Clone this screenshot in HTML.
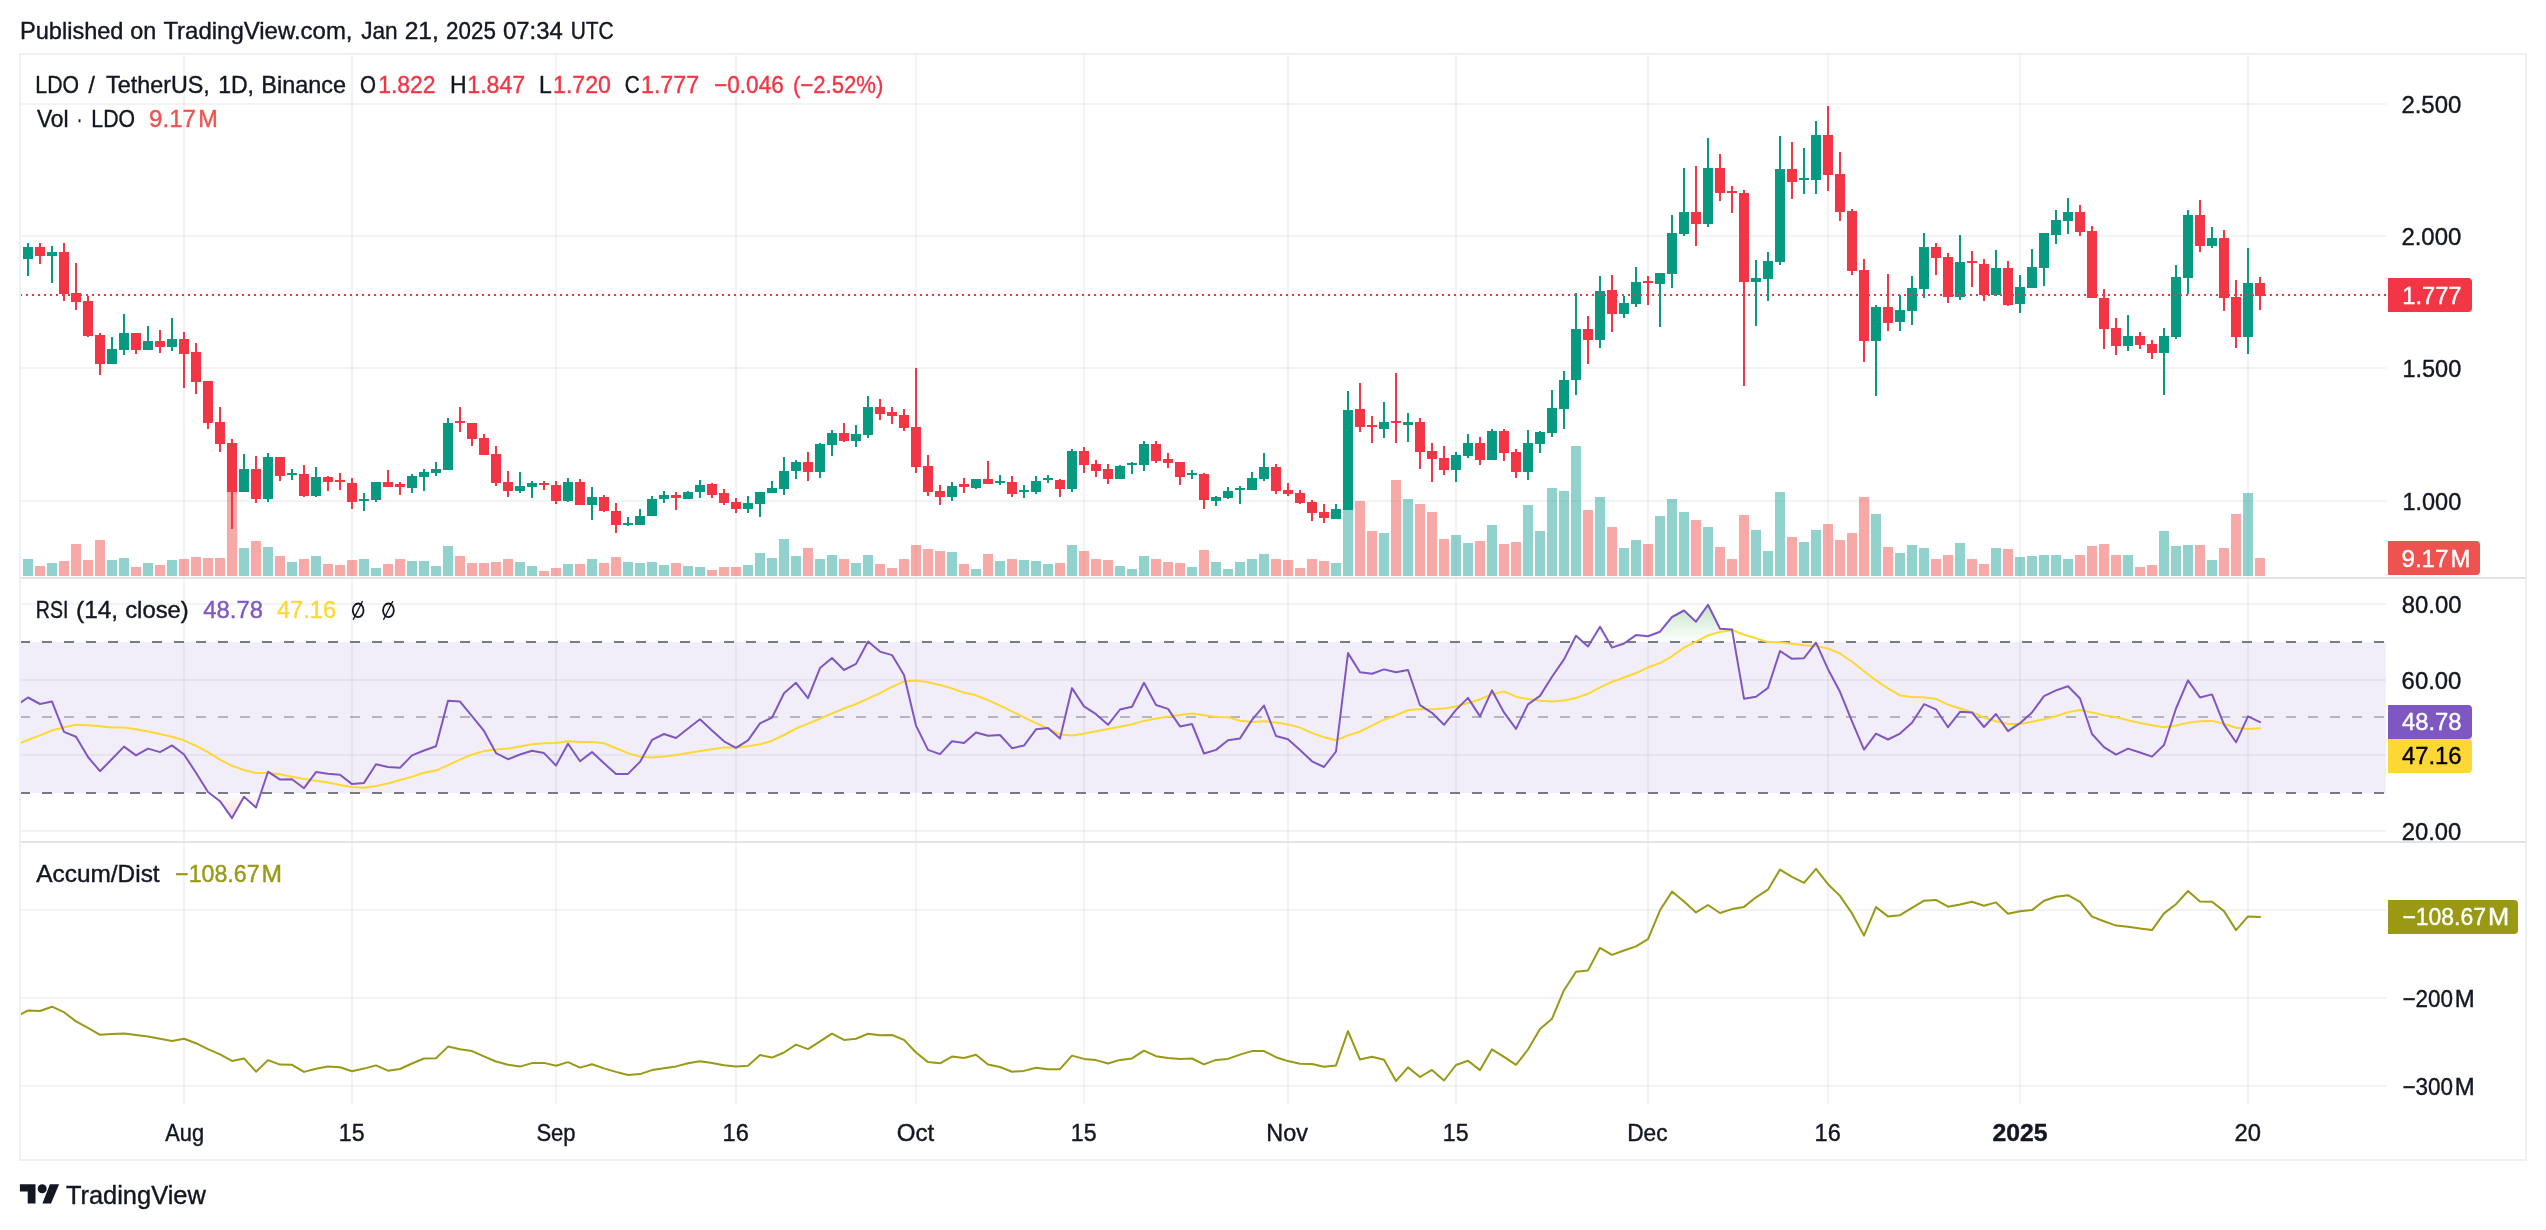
<!DOCTYPE html>
<html><head><meta charset="utf-8"><title>LDO / TetherUS chart</title>
<style>html,body{margin:0;padding:0;background:#fff;}body{width:2546px;height:1230px;position:relative;overflow:hidden;font-family:"Liberation Sans",sans-serif;}</style>
</head><body>
<svg width="2546" height="1230" viewBox="0 0 2546 1230" font-family="Liberation Sans, sans-serif" style="position:absolute;left:0;top:0;will-change:transform">
<defs>
<linearGradient id="gOB" x1="0" y1="528.5" x2="0" y2="641.75" gradientUnits="userSpaceOnUse"><stop offset="0" stop-color="#4CAF50" stop-opacity="1"/><stop offset="1" stop-color="#4CAF50" stop-opacity="0"/></linearGradient>
<linearGradient id="gOS" x1="0" y1="792.75" x2="0" y2="906" gradientUnits="userSpaceOnUse"><stop offset="0" stop-color="#FF5252" stop-opacity="0"/><stop offset="1" stop-color="#FF5252" stop-opacity="1"/></linearGradient>
<clipPath id="plot"><rect x="21" y="55" width="2365" height="1104"/></clipPath>
</defs>
<rect x="0" y="0" width="2546" height="1230" fill="#ffffff"/>
<g shape-rendering="crispEdges">
<rect x="183" y="55" width="2" height="1049" fill="rgba(30,50,50,0.06)"/>
<rect x="351" y="55" width="2" height="1049" fill="rgba(30,50,50,0.06)"/>
<rect x="555" y="55" width="2" height="1049" fill="rgba(30,50,50,0.06)"/>
<rect x="735" y="55" width="2" height="1049" fill="rgba(30,50,50,0.06)"/>
<rect x="915" y="55" width="2" height="1049" fill="rgba(30,50,50,0.06)"/>
<rect x="1083" y="55" width="2" height="1049" fill="rgba(30,50,50,0.06)"/>
<rect x="1287" y="55" width="2" height="1049" fill="rgba(30,50,50,0.06)"/>
<rect x="1455" y="55" width="2" height="1049" fill="rgba(30,50,50,0.06)"/>
<rect x="1647" y="55" width="2" height="1049" fill="rgba(30,50,50,0.06)"/>
<rect x="1827" y="55" width="2" height="1049" fill="rgba(30,50,50,0.06)"/>
<rect x="2019" y="55" width="2" height="1049" fill="rgba(30,50,50,0.06)"/>
<rect x="2247" y="55" width="2" height="1049" fill="rgba(30,50,50,0.06)"/>
<rect x="21" y="103" width="2365" height="2" fill="rgba(30,50,50,0.06)"/>
<rect x="21" y="235" width="2365" height="2" fill="rgba(30,50,50,0.06)"/>
<rect x="21" y="367" width="2365" height="2" fill="rgba(30,50,50,0.06)"/>
<rect x="21" y="500" width="2365" height="2" fill="rgba(30,50,50,0.06)"/>
<rect x="21" y="603" width="2365" height="2" fill="rgba(30,50,50,0.06)"/>
<rect x="21" y="679" width="2365" height="2" fill="rgba(30,50,50,0.06)"/>
<rect x="21" y="754" width="2365" height="2" fill="rgba(30,50,50,0.06)"/>
<rect x="21" y="830" width="2365" height="2" fill="rgba(30,50,50,0.06)"/>
<rect x="21" y="909" width="2365" height="2" fill="rgba(30,50,50,0.06)"/>
<rect x="21" y="997" width="2365" height="2" fill="rgba(30,50,50,0.06)"/>
<rect x="21" y="1085" width="2365" height="2" fill="rgba(30,50,50,0.06)"/>
<rect x="21" y="642" width="2365" height="151" fill="rgba(126,87,194,0.1)"/>
<rect x="23" y="559" width="10" height="17" fill="rgba(38,166,154,0.5)"/>
<rect x="35" y="566" width="10" height="10" fill="rgba(239,83,80,0.5)"/>
<rect x="47" y="563" width="10" height="13" fill="rgba(38,166,154,0.5)"/>
<rect x="59" y="561" width="10" height="15" fill="rgba(239,83,80,0.5)"/>
<rect x="71" y="544" width="10" height="32" fill="rgba(239,83,80,0.5)"/>
<rect x="83" y="560" width="10" height="16" fill="rgba(239,83,80,0.5)"/>
<rect x="95" y="540" width="10" height="36" fill="rgba(239,83,80,0.5)"/>
<rect x="107" y="560" width="10" height="16" fill="rgba(38,166,154,0.5)"/>
<rect x="119" y="558" width="10" height="18" fill="rgba(38,166,154,0.5)"/>
<rect x="131" y="567" width="10" height="9" fill="rgba(239,83,80,0.5)"/>
<rect x="143" y="563" width="10" height="13" fill="rgba(38,166,154,0.5)"/>
<rect x="155" y="565" width="10" height="11" fill="rgba(239,83,80,0.5)"/>
<rect x="167" y="560" width="10" height="16" fill="rgba(38,166,154,0.5)"/>
<rect x="179" y="559" width="10" height="17" fill="rgba(239,83,80,0.5)"/>
<rect x="191" y="557" width="10" height="19" fill="rgba(239,83,80,0.5)"/>
<rect x="203" y="558" width="10" height="18" fill="rgba(239,83,80,0.5)"/>
<rect x="215" y="558" width="10" height="18" fill="rgba(239,83,80,0.5)"/>
<rect x="227" y="490" width="10" height="86" fill="rgba(239,83,80,0.5)"/>
<rect x="239" y="548" width="10" height="28" fill="rgba(38,166,154,0.5)"/>
<rect x="251" y="541" width="10" height="35" fill="rgba(239,83,80,0.5)"/>
<rect x="263" y="547" width="10" height="29" fill="rgba(38,166,154,0.5)"/>
<rect x="275" y="556" width="10" height="20" fill="rgba(239,83,80,0.5)"/>
<rect x="287" y="562" width="10" height="14" fill="rgba(38,166,154,0.5)"/>
<rect x="299" y="559" width="10" height="17" fill="rgba(239,83,80,0.5)"/>
<rect x="311" y="556" width="10" height="20" fill="rgba(38,166,154,0.5)"/>
<rect x="323" y="564" width="10" height="12" fill="rgba(239,83,80,0.5)"/>
<rect x="335" y="565" width="10" height="11" fill="rgba(239,83,80,0.5)"/>
<rect x="347" y="560" width="10" height="16" fill="rgba(239,83,80,0.5)"/>
<rect x="359" y="559" width="10" height="17" fill="rgba(38,166,154,0.5)"/>
<rect x="371" y="568" width="10" height="8" fill="rgba(38,166,154,0.5)"/>
<rect x="383" y="564" width="10" height="12" fill="rgba(239,83,80,0.5)"/>
<rect x="395" y="559" width="10" height="17" fill="rgba(239,83,80,0.5)"/>
<rect x="407" y="561" width="10" height="15" fill="rgba(38,166,154,0.5)"/>
<rect x="419" y="561" width="10" height="15" fill="rgba(38,166,154,0.5)"/>
<rect x="431" y="566" width="10" height="10" fill="rgba(38,166,154,0.5)"/>
<rect x="443" y="546" width="10" height="30" fill="rgba(38,166,154,0.5)"/>
<rect x="455" y="556" width="10" height="20" fill="rgba(239,83,80,0.5)"/>
<rect x="467" y="563" width="10" height="13" fill="rgba(239,83,80,0.5)"/>
<rect x="479" y="563" width="10" height="13" fill="rgba(239,83,80,0.5)"/>
<rect x="491" y="562" width="10" height="14" fill="rgba(239,83,80,0.5)"/>
<rect x="503" y="559" width="10" height="17" fill="rgba(239,83,80,0.5)"/>
<rect x="515" y="562" width="10" height="14" fill="rgba(38,166,154,0.5)"/>
<rect x="527" y="566" width="10" height="10" fill="rgba(38,166,154,0.5)"/>
<rect x="539" y="571" width="10" height="5" fill="rgba(239,83,80,0.5)"/>
<rect x="551" y="568" width="10" height="8" fill="rgba(239,83,80,0.5)"/>
<rect x="563" y="564" width="10" height="12" fill="rgba(38,166,154,0.5)"/>
<rect x="575" y="564" width="10" height="12" fill="rgba(239,83,80,0.5)"/>
<rect x="587" y="559" width="10" height="17" fill="rgba(38,166,154,0.5)"/>
<rect x="599" y="563" width="10" height="13" fill="rgba(239,83,80,0.5)"/>
<rect x="611" y="557" width="10" height="19" fill="rgba(239,83,80,0.5)"/>
<rect x="623" y="562" width="10" height="14" fill="rgba(38,166,154,0.5)"/>
<rect x="635" y="563" width="10" height="13" fill="rgba(38,166,154,0.5)"/>
<rect x="647" y="562" width="10" height="14" fill="rgba(38,166,154,0.5)"/>
<rect x="659" y="565" width="10" height="11" fill="rgba(38,166,154,0.5)"/>
<rect x="671" y="563" width="10" height="13" fill="rgba(239,83,80,0.5)"/>
<rect x="683" y="566" width="10" height="10" fill="rgba(38,166,154,0.5)"/>
<rect x="695" y="567" width="10" height="9" fill="rgba(38,166,154,0.5)"/>
<rect x="707" y="570" width="10" height="6" fill="rgba(239,83,80,0.5)"/>
<rect x="719" y="567" width="10" height="9" fill="rgba(239,83,80,0.5)"/>
<rect x="731" y="567" width="10" height="9" fill="rgba(239,83,80,0.5)"/>
<rect x="743" y="565" width="10" height="11" fill="rgba(38,166,154,0.5)"/>
<rect x="755" y="553" width="10" height="23" fill="rgba(38,166,154,0.5)"/>
<rect x="767" y="558" width="10" height="18" fill="rgba(38,166,154,0.5)"/>
<rect x="779" y="539" width="10" height="37" fill="rgba(38,166,154,0.5)"/>
<rect x="791" y="556" width="10" height="20" fill="rgba(38,166,154,0.5)"/>
<rect x="803" y="548" width="10" height="28" fill="rgba(239,83,80,0.5)"/>
<rect x="815" y="559" width="10" height="17" fill="rgba(38,166,154,0.5)"/>
<rect x="827" y="555" width="10" height="21" fill="rgba(38,166,154,0.5)"/>
<rect x="839" y="559" width="10" height="17" fill="rgba(239,83,80,0.5)"/>
<rect x="851" y="563" width="10" height="13" fill="rgba(38,166,154,0.5)"/>
<rect x="863" y="555" width="10" height="21" fill="rgba(38,166,154,0.5)"/>
<rect x="875" y="564" width="10" height="12" fill="rgba(239,83,80,0.5)"/>
<rect x="887" y="568" width="10" height="8" fill="rgba(239,83,80,0.5)"/>
<rect x="899" y="559" width="10" height="17" fill="rgba(239,83,80,0.5)"/>
<rect x="911" y="545" width="10" height="31" fill="rgba(239,83,80,0.5)"/>
<rect x="923" y="549" width="10" height="27" fill="rgba(239,83,80,0.5)"/>
<rect x="935" y="551" width="10" height="25" fill="rgba(239,83,80,0.5)"/>
<rect x="947" y="552" width="10" height="24" fill="rgba(38,166,154,0.5)"/>
<rect x="959" y="564" width="10" height="12" fill="rgba(239,83,80,0.5)"/>
<rect x="971" y="569" width="10" height="7" fill="rgba(38,166,154,0.5)"/>
<rect x="983" y="554" width="10" height="22" fill="rgba(239,83,80,0.5)"/>
<rect x="995" y="561" width="10" height="15" fill="rgba(38,166,154,0.5)"/>
<rect x="1007" y="559" width="10" height="17" fill="rgba(239,83,80,0.5)"/>
<rect x="1019" y="560" width="10" height="16" fill="rgba(38,166,154,0.5)"/>
<rect x="1031" y="561" width="10" height="15" fill="rgba(38,166,154,0.5)"/>
<rect x="1043" y="564" width="10" height="12" fill="rgba(38,166,154,0.5)"/>
<rect x="1055" y="563" width="10" height="13" fill="rgba(239,83,80,0.5)"/>
<rect x="1067" y="545" width="10" height="31" fill="rgba(38,166,154,0.5)"/>
<rect x="1079" y="551" width="10" height="25" fill="rgba(239,83,80,0.5)"/>
<rect x="1091" y="559" width="10" height="17" fill="rgba(239,83,80,0.5)"/>
<rect x="1103" y="560" width="10" height="16" fill="rgba(239,83,80,0.5)"/>
<rect x="1115" y="566" width="10" height="10" fill="rgba(38,166,154,0.5)"/>
<rect x="1127" y="569" width="10" height="7" fill="rgba(38,166,154,0.5)"/>
<rect x="1139" y="556" width="10" height="20" fill="rgba(38,166,154,0.5)"/>
<rect x="1151" y="559" width="10" height="17" fill="rgba(239,83,80,0.5)"/>
<rect x="1163" y="562" width="10" height="14" fill="rgba(239,83,80,0.5)"/>
<rect x="1175" y="563" width="10" height="13" fill="rgba(239,83,80,0.5)"/>
<rect x="1187" y="567" width="10" height="9" fill="rgba(38,166,154,0.5)"/>
<rect x="1199" y="550" width="10" height="26" fill="rgba(239,83,80,0.5)"/>
<rect x="1211" y="562" width="10" height="14" fill="rgba(38,166,154,0.5)"/>
<rect x="1223" y="569" width="10" height="7" fill="rgba(38,166,154,0.5)"/>
<rect x="1235" y="562" width="10" height="14" fill="rgba(38,166,154,0.5)"/>
<rect x="1247" y="559" width="10" height="17" fill="rgba(38,166,154,0.5)"/>
<rect x="1259" y="554" width="10" height="22" fill="rgba(38,166,154,0.5)"/>
<rect x="1271" y="559" width="10" height="17" fill="rgba(239,83,80,0.5)"/>
<rect x="1283" y="560" width="10" height="16" fill="rgba(239,83,80,0.5)"/>
<rect x="1295" y="568" width="10" height="8" fill="rgba(239,83,80,0.5)"/>
<rect x="1307" y="559" width="10" height="17" fill="rgba(239,83,80,0.5)"/>
<rect x="1319" y="561" width="10" height="15" fill="rgba(239,83,80,0.5)"/>
<rect x="1331" y="563" width="10" height="13" fill="rgba(38,166,154,0.5)"/>
<rect x="1343" y="504" width="10" height="72" fill="rgba(38,166,154,0.5)"/>
<rect x="1355" y="501" width="10" height="75" fill="rgba(239,83,80,0.5)"/>
<rect x="1367" y="531" width="10" height="45" fill="rgba(239,83,80,0.5)"/>
<rect x="1379" y="533" width="10" height="43" fill="rgba(38,166,154,0.5)"/>
<rect x="1391" y="480" width="10" height="96" fill="rgba(239,83,80,0.5)"/>
<rect x="1403" y="499" width="10" height="77" fill="rgba(38,166,154,0.5)"/>
<rect x="1415" y="504" width="10" height="72" fill="rgba(239,83,80,0.5)"/>
<rect x="1427" y="512" width="10" height="64" fill="rgba(239,83,80,0.5)"/>
<rect x="1439" y="539" width="10" height="37" fill="rgba(239,83,80,0.5)"/>
<rect x="1451" y="535" width="10" height="41" fill="rgba(38,166,154,0.5)"/>
<rect x="1463" y="543" width="10" height="33" fill="rgba(38,166,154,0.5)"/>
<rect x="1475" y="541" width="10" height="35" fill="rgba(239,83,80,0.5)"/>
<rect x="1487" y="525" width="10" height="51" fill="rgba(38,166,154,0.5)"/>
<rect x="1499" y="544" width="10" height="32" fill="rgba(239,83,80,0.5)"/>
<rect x="1511" y="542" width="10" height="34" fill="rgba(239,83,80,0.5)"/>
<rect x="1523" y="505" width="10" height="71" fill="rgba(38,166,154,0.5)"/>
<rect x="1535" y="531" width="10" height="45" fill="rgba(38,166,154,0.5)"/>
<rect x="1547" y="488" width="10" height="88" fill="rgba(38,166,154,0.5)"/>
<rect x="1559" y="491" width="10" height="85" fill="rgba(38,166,154,0.5)"/>
<rect x="1571" y="446" width="10" height="130" fill="rgba(38,166,154,0.5)"/>
<rect x="1583" y="510" width="10" height="66" fill="rgba(239,83,80,0.5)"/>
<rect x="1595" y="497" width="10" height="79" fill="rgba(38,166,154,0.5)"/>
<rect x="1607" y="527" width="10" height="49" fill="rgba(239,83,80,0.5)"/>
<rect x="1619" y="548" width="10" height="28" fill="rgba(38,166,154,0.5)"/>
<rect x="1631" y="540" width="10" height="36" fill="rgba(38,166,154,0.5)"/>
<rect x="1643" y="544" width="10" height="32" fill="rgba(239,83,80,0.5)"/>
<rect x="1655" y="516" width="10" height="60" fill="rgba(38,166,154,0.5)"/>
<rect x="1667" y="499" width="10" height="77" fill="rgba(38,166,154,0.5)"/>
<rect x="1679" y="512" width="10" height="64" fill="rgba(38,166,154,0.5)"/>
<rect x="1691" y="520" width="10" height="56" fill="rgba(239,83,80,0.5)"/>
<rect x="1703" y="527" width="10" height="49" fill="rgba(38,166,154,0.5)"/>
<rect x="1715" y="547" width="10" height="29" fill="rgba(239,83,80,0.5)"/>
<rect x="1727" y="559" width="10" height="17" fill="rgba(239,83,80,0.5)"/>
<rect x="1739" y="515" width="10" height="61" fill="rgba(239,83,80,0.5)"/>
<rect x="1751" y="530" width="10" height="46" fill="rgba(38,166,154,0.5)"/>
<rect x="1763" y="551" width="10" height="25" fill="rgba(38,166,154,0.5)"/>
<rect x="1775" y="492" width="10" height="84" fill="rgba(38,166,154,0.5)"/>
<rect x="1787" y="537" width="10" height="39" fill="rgba(239,83,80,0.5)"/>
<rect x="1799" y="542" width="10" height="34" fill="rgba(38,166,154,0.5)"/>
<rect x="1811" y="530" width="10" height="46" fill="rgba(38,166,154,0.5)"/>
<rect x="1823" y="524" width="10" height="52" fill="rgba(239,83,80,0.5)"/>
<rect x="1835" y="540" width="10" height="36" fill="rgba(239,83,80,0.5)"/>
<rect x="1847" y="533" width="10" height="43" fill="rgba(239,83,80,0.5)"/>
<rect x="1859" y="497" width="10" height="79" fill="rgba(239,83,80,0.5)"/>
<rect x="1871" y="514" width="10" height="62" fill="rgba(38,166,154,0.5)"/>
<rect x="1883" y="547" width="10" height="29" fill="rgba(239,83,80,0.5)"/>
<rect x="1895" y="553" width="10" height="23" fill="rgba(38,166,154,0.5)"/>
<rect x="1907" y="545" width="10" height="31" fill="rgba(38,166,154,0.5)"/>
<rect x="1919" y="548" width="10" height="28" fill="rgba(38,166,154,0.5)"/>
<rect x="1931" y="559" width="10" height="17" fill="rgba(239,83,80,0.5)"/>
<rect x="1943" y="555" width="10" height="21" fill="rgba(239,83,80,0.5)"/>
<rect x="1955" y="543" width="10" height="33" fill="rgba(38,166,154,0.5)"/>
<rect x="1967" y="559" width="10" height="17" fill="rgba(239,83,80,0.5)"/>
<rect x="1979" y="564" width="10" height="12" fill="rgba(239,83,80,0.5)"/>
<rect x="1991" y="548" width="10" height="28" fill="rgba(38,166,154,0.5)"/>
<rect x="2003" y="549" width="10" height="27" fill="rgba(239,83,80,0.5)"/>
<rect x="2015" y="557" width="10" height="19" fill="rgba(38,166,154,0.5)"/>
<rect x="2027" y="556" width="10" height="20" fill="rgba(38,166,154,0.5)"/>
<rect x="2039" y="555" width="10" height="21" fill="rgba(38,166,154,0.5)"/>
<rect x="2051" y="555" width="10" height="21" fill="rgba(38,166,154,0.5)"/>
<rect x="2063" y="559" width="10" height="17" fill="rgba(38,166,154,0.5)"/>
<rect x="2075" y="555" width="10" height="21" fill="rgba(239,83,80,0.5)"/>
<rect x="2087" y="546" width="10" height="30" fill="rgba(239,83,80,0.5)"/>
<rect x="2099" y="544" width="10" height="32" fill="rgba(239,83,80,0.5)"/>
<rect x="2111" y="555" width="10" height="21" fill="rgba(239,83,80,0.5)"/>
<rect x="2123" y="555" width="10" height="21" fill="rgba(38,166,154,0.5)"/>
<rect x="2135" y="567" width="10" height="9" fill="rgba(239,83,80,0.5)"/>
<rect x="2147" y="565" width="10" height="11" fill="rgba(239,83,80,0.5)"/>
<rect x="2159" y="531" width="10" height="45" fill="rgba(38,166,154,0.5)"/>
<rect x="2171" y="546" width="10" height="30" fill="rgba(38,166,154,0.5)"/>
<rect x="2183" y="545" width="10" height="31" fill="rgba(38,166,154,0.5)"/>
<rect x="2195" y="545" width="10" height="31" fill="rgba(239,83,80,0.5)"/>
<rect x="2207" y="560" width="10" height="16" fill="rgba(38,166,154,0.5)"/>
<rect x="2219" y="548" width="10" height="28" fill="rgba(239,83,80,0.5)"/>
<rect x="2231" y="514" width="10" height="62" fill="rgba(239,83,80,0.5)"/>
<rect x="2243" y="493" width="10" height="83" fill="rgba(38,166,154,0.5)"/>
<rect x="2255" y="558" width="10" height="18" fill="rgba(239,83,80,0.5)"/>
<rect x="27" y="243" width="2" height="33" fill="#089981"/>
<rect x="23" y="247" width="10" height="12" fill="#089981"/>
<rect x="39" y="243" width="2" height="21" fill="#F23645"/>
<rect x="35" y="247" width="10" height="9" fill="#F23645"/>
<rect x="51" y="246" width="2" height="37" fill="#089981"/>
<rect x="47" y="252" width="10" height="4" fill="#089981"/>
<rect x="63" y="243" width="2" height="58" fill="#F23645"/>
<rect x="59" y="252" width="10" height="42" fill="#F23645"/>
<rect x="75" y="263" width="2" height="47" fill="#F23645"/>
<rect x="71" y="293" width="10" height="9" fill="#F23645"/>
<rect x="87" y="296" width="2" height="41" fill="#F23645"/>
<rect x="83" y="301" width="10" height="35" fill="#F23645"/>
<rect x="99" y="333" width="2" height="42" fill="#F23645"/>
<rect x="95" y="335" width="10" height="29" fill="#F23645"/>
<rect x="111" y="337" width="2" height="27" fill="#089981"/>
<rect x="107" y="349" width="10" height="15" fill="#089981"/>
<rect x="123" y="314" width="2" height="41" fill="#089981"/>
<rect x="119" y="333" width="10" height="17" fill="#089981"/>
<rect x="135" y="333" width="2" height="21" fill="#F23645"/>
<rect x="131" y="333" width="10" height="17" fill="#F23645"/>
<rect x="147" y="326" width="2" height="24" fill="#089981"/>
<rect x="143" y="341" width="10" height="9" fill="#089981"/>
<rect x="159" y="330" width="2" height="23" fill="#F23645"/>
<rect x="155" y="341" width="10" height="6" fill="#F23645"/>
<rect x="171" y="318" width="2" height="33" fill="#089981"/>
<rect x="167" y="339" width="10" height="8" fill="#089981"/>
<rect x="183" y="332" width="2" height="56" fill="#F23645"/>
<rect x="179" y="339" width="10" height="15" fill="#F23645"/>
<rect x="195" y="343" width="2" height="51" fill="#F23645"/>
<rect x="191" y="352" width="10" height="30" fill="#F23645"/>
<rect x="207" y="381" width="2" height="48" fill="#F23645"/>
<rect x="203" y="381" width="10" height="42" fill="#F23645"/>
<rect x="219" y="407" width="2" height="45" fill="#F23645"/>
<rect x="215" y="422" width="10" height="22" fill="#F23645"/>
<rect x="231" y="439" width="2" height="90" fill="#F23645"/>
<rect x="227" y="443" width="10" height="49" fill="#F23645"/>
<rect x="243" y="454" width="2" height="38" fill="#089981"/>
<rect x="239" y="469" width="10" height="23" fill="#089981"/>
<rect x="255" y="456" width="2" height="47" fill="#F23645"/>
<rect x="251" y="469" width="10" height="30" fill="#F23645"/>
<rect x="267" y="453" width="2" height="49" fill="#089981"/>
<rect x="263" y="457" width="10" height="42" fill="#089981"/>
<rect x="279" y="457" width="2" height="24" fill="#F23645"/>
<rect x="275" y="457" width="10" height="19" fill="#F23645"/>
<rect x="291" y="469" width="2" height="11" fill="#089981"/>
<rect x="287" y="473" width="10" height="2" fill="#089981"/>
<rect x="303" y="465" width="2" height="32" fill="#F23645"/>
<rect x="299" y="474" width="10" height="22" fill="#F23645"/>
<rect x="315" y="467" width="2" height="30" fill="#089981"/>
<rect x="311" y="477" width="10" height="19" fill="#089981"/>
<rect x="327" y="476" width="2" height="15" fill="#F23645"/>
<rect x="323" y="477" width="10" height="5" fill="#F23645"/>
<rect x="339" y="473" width="2" height="17" fill="#F23645"/>
<rect x="335" y="480" width="10" height="2" fill="#F23645"/>
<rect x="351" y="478" width="2" height="31" fill="#F23645"/>
<rect x="347" y="483" width="10" height="19" fill="#F23645"/>
<rect x="363" y="493" width="2" height="18" fill="#089981"/>
<rect x="359" y="499" width="10" height="2" fill="#089981"/>
<rect x="375" y="482" width="2" height="20" fill="#089981"/>
<rect x="371" y="482" width="10" height="18" fill="#089981"/>
<rect x="387" y="470" width="2" height="17" fill="#F23645"/>
<rect x="383" y="482" width="10" height="5" fill="#F23645"/>
<rect x="399" y="482" width="2" height="13" fill="#F23645"/>
<rect x="395" y="484" width="10" height="3" fill="#F23645"/>
<rect x="411" y="474" width="2" height="19" fill="#089981"/>
<rect x="407" y="476" width="10" height="12" fill="#089981"/>
<rect x="423" y="469" width="2" height="22" fill="#089981"/>
<rect x="419" y="472" width="10" height="5" fill="#089981"/>
<rect x="435" y="462" width="2" height="14" fill="#089981"/>
<rect x="431" y="469" width="10" height="4" fill="#089981"/>
<rect x="447" y="418" width="2" height="52" fill="#089981"/>
<rect x="443" y="423" width="10" height="47" fill="#089981"/>
<rect x="459" y="407" width="2" height="25" fill="#F23645"/>
<rect x="455" y="421" width="10" height="2" fill="#F23645"/>
<rect x="471" y="423" width="2" height="23" fill="#F23645"/>
<rect x="467" y="423" width="10" height="16" fill="#F23645"/>
<rect x="483" y="434" width="2" height="21" fill="#F23645"/>
<rect x="479" y="438" width="10" height="17" fill="#F23645"/>
<rect x="495" y="446" width="2" height="40" fill="#F23645"/>
<rect x="491" y="454" width="10" height="29" fill="#F23645"/>
<rect x="507" y="471" width="2" height="26" fill="#F23645"/>
<rect x="503" y="482" width="10" height="9" fill="#F23645"/>
<rect x="519" y="472" width="2" height="21" fill="#089981"/>
<rect x="515" y="486" width="10" height="5" fill="#089981"/>
<rect x="531" y="481" width="2" height="17" fill="#089981"/>
<rect x="527" y="483" width="10" height="4" fill="#089981"/>
<rect x="543" y="481" width="2" height="9" fill="#F23645"/>
<rect x="539" y="483" width="10" height="2" fill="#F23645"/>
<rect x="555" y="481" width="2" height="23" fill="#F23645"/>
<rect x="551" y="485" width="10" height="16" fill="#F23645"/>
<rect x="567" y="478" width="2" height="24" fill="#089981"/>
<rect x="563" y="482" width="10" height="19" fill="#089981"/>
<rect x="579" y="479" width="2" height="26" fill="#F23645"/>
<rect x="575" y="482" width="10" height="23" fill="#F23645"/>
<rect x="591" y="487" width="2" height="33" fill="#089981"/>
<rect x="587" y="497" width="10" height="8" fill="#089981"/>
<rect x="603" y="495" width="2" height="17" fill="#F23645"/>
<rect x="599" y="497" width="10" height="14" fill="#F23645"/>
<rect x="615" y="503" width="2" height="30" fill="#F23645"/>
<rect x="611" y="511" width="10" height="14" fill="#F23645"/>
<rect x="627" y="517" width="2" height="9" fill="#089981"/>
<rect x="623" y="523" width="10" height="2" fill="#089981"/>
<rect x="639" y="509" width="2" height="16" fill="#089981"/>
<rect x="635" y="516" width="10" height="9" fill="#089981"/>
<rect x="651" y="496" width="2" height="20" fill="#089981"/>
<rect x="647" y="499" width="10" height="17" fill="#089981"/>
<rect x="663" y="491" width="2" height="12" fill="#089981"/>
<rect x="659" y="495" width="10" height="4" fill="#089981"/>
<rect x="675" y="492" width="2" height="18" fill="#F23645"/>
<rect x="671" y="495" width="10" height="3" fill="#F23645"/>
<rect x="687" y="491" width="2" height="8" fill="#089981"/>
<rect x="683" y="492" width="10" height="7" fill="#089981"/>
<rect x="699" y="480" width="2" height="18" fill="#089981"/>
<rect x="695" y="485" width="10" height="7" fill="#089981"/>
<rect x="711" y="483" width="2" height="15" fill="#F23645"/>
<rect x="707" y="484" width="10" height="11" fill="#F23645"/>
<rect x="723" y="489" width="2" height="16" fill="#F23645"/>
<rect x="719" y="493" width="10" height="10" fill="#F23645"/>
<rect x="735" y="498" width="2" height="15" fill="#F23645"/>
<rect x="731" y="502" width="10" height="7" fill="#F23645"/>
<rect x="747" y="496" width="2" height="17" fill="#089981"/>
<rect x="743" y="503" width="10" height="6" fill="#089981"/>
<rect x="759" y="492" width="2" height="25" fill="#089981"/>
<rect x="755" y="492" width="10" height="12" fill="#089981"/>
<rect x="771" y="481" width="2" height="12" fill="#089981"/>
<rect x="767" y="488" width="10" height="5" fill="#089981"/>
<rect x="783" y="457" width="2" height="38" fill="#089981"/>
<rect x="779" y="471" width="10" height="18" fill="#089981"/>
<rect x="795" y="460" width="2" height="19" fill="#089981"/>
<rect x="791" y="462" width="10" height="9" fill="#089981"/>
<rect x="807" y="452" width="2" height="29" fill="#F23645"/>
<rect x="803" y="462" width="10" height="10" fill="#F23645"/>
<rect x="819" y="443" width="2" height="35" fill="#089981"/>
<rect x="815" y="444" width="10" height="28" fill="#089981"/>
<rect x="831" y="430" width="2" height="26" fill="#089981"/>
<rect x="827" y="433" width="10" height="12" fill="#089981"/>
<rect x="843" y="423" width="2" height="19" fill="#F23645"/>
<rect x="839" y="433" width="10" height="8" fill="#F23645"/>
<rect x="855" y="425" width="2" height="22" fill="#089981"/>
<rect x="851" y="434" width="10" height="7" fill="#089981"/>
<rect x="867" y="396" width="2" height="42" fill="#089981"/>
<rect x="863" y="407" width="10" height="28" fill="#089981"/>
<rect x="879" y="399" width="2" height="21" fill="#F23645"/>
<rect x="875" y="407" width="10" height="7" fill="#F23645"/>
<rect x="891" y="407" width="2" height="17" fill="#F23645"/>
<rect x="887" y="412" width="10" height="4" fill="#F23645"/>
<rect x="903" y="409" width="2" height="22" fill="#F23645"/>
<rect x="899" y="415" width="10" height="13" fill="#F23645"/>
<rect x="915" y="368" width="2" height="105" fill="#F23645"/>
<rect x="911" y="427" width="10" height="40" fill="#F23645"/>
<rect x="927" y="455" width="2" height="41" fill="#F23645"/>
<rect x="923" y="466" width="10" height="26" fill="#F23645"/>
<rect x="939" y="485" width="2" height="20" fill="#F23645"/>
<rect x="935" y="491" width="10" height="6" fill="#F23645"/>
<rect x="951" y="482" width="2" height="19" fill="#089981"/>
<rect x="947" y="486" width="10" height="11" fill="#089981"/>
<rect x="963" y="478" width="2" height="15" fill="#F23645"/>
<rect x="959" y="484" width="10" height="3" fill="#F23645"/>
<rect x="975" y="479" width="2" height="10" fill="#089981"/>
<rect x="971" y="479" width="10" height="9" fill="#089981"/>
<rect x="987" y="461" width="2" height="23" fill="#F23645"/>
<rect x="983" y="479" width="10" height="5" fill="#F23645"/>
<rect x="999" y="475" width="2" height="10" fill="#089981"/>
<rect x="995" y="481" width="10" height="2" fill="#089981"/>
<rect x="1011" y="476" width="2" height="21" fill="#F23645"/>
<rect x="1007" y="482" width="10" height="12" fill="#F23645"/>
<rect x="1023" y="485" width="2" height="13" fill="#089981"/>
<rect x="1019" y="490" width="10" height="2" fill="#089981"/>
<rect x="1035" y="476" width="2" height="18" fill="#089981"/>
<rect x="1031" y="481" width="10" height="11" fill="#089981"/>
<rect x="1047" y="475" width="2" height="8" fill="#089981"/>
<rect x="1043" y="478" width="10" height="2" fill="#089981"/>
<rect x="1059" y="479" width="2" height="18" fill="#F23645"/>
<rect x="1055" y="480" width="10" height="9" fill="#F23645"/>
<rect x="1071" y="449" width="2" height="43" fill="#089981"/>
<rect x="1067" y="451" width="10" height="38" fill="#089981"/>
<rect x="1083" y="447" width="2" height="26" fill="#F23645"/>
<rect x="1079" y="451" width="10" height="14" fill="#F23645"/>
<rect x="1095" y="460" width="2" height="17" fill="#F23645"/>
<rect x="1091" y="464" width="10" height="7" fill="#F23645"/>
<rect x="1107" y="464" width="2" height="20" fill="#F23645"/>
<rect x="1103" y="469" width="10" height="10" fill="#F23645"/>
<rect x="1119" y="465" width="2" height="14" fill="#089981"/>
<rect x="1115" y="466" width="10" height="13" fill="#089981"/>
<rect x="1131" y="462" width="2" height="12" fill="#089981"/>
<rect x="1127" y="463" width="10" height="2" fill="#089981"/>
<rect x="1143" y="441" width="2" height="30" fill="#089981"/>
<rect x="1139" y="444" width="10" height="21" fill="#089981"/>
<rect x="1155" y="441" width="2" height="22" fill="#F23645"/>
<rect x="1151" y="444" width="10" height="17" fill="#F23645"/>
<rect x="1167" y="453" width="2" height="15" fill="#F23645"/>
<rect x="1163" y="459" width="10" height="4" fill="#F23645"/>
<rect x="1179" y="462" width="2" height="23" fill="#F23645"/>
<rect x="1175" y="462" width="10" height="15" fill="#F23645"/>
<rect x="1191" y="470" width="2" height="9" fill="#089981"/>
<rect x="1187" y="473" width="10" height="2" fill="#089981"/>
<rect x="1203" y="473" width="2" height="36" fill="#F23645"/>
<rect x="1199" y="474" width="10" height="26" fill="#F23645"/>
<rect x="1215" y="496" width="2" height="10" fill="#089981"/>
<rect x="1211" y="497" width="10" height="4" fill="#089981"/>
<rect x="1227" y="487" width="2" height="12" fill="#089981"/>
<rect x="1223" y="491" width="10" height="7" fill="#089981"/>
<rect x="1239" y="486" width="2" height="18" fill="#089981"/>
<rect x="1235" y="488" width="10" height="2" fill="#089981"/>
<rect x="1251" y="472" width="2" height="18" fill="#089981"/>
<rect x="1247" y="478" width="10" height="12" fill="#089981"/>
<rect x="1263" y="453" width="2" height="28" fill="#089981"/>
<rect x="1259" y="467" width="10" height="12" fill="#089981"/>
<rect x="1275" y="464" width="2" height="30" fill="#F23645"/>
<rect x="1271" y="467" width="10" height="24" fill="#F23645"/>
<rect x="1287" y="483" width="2" height="13" fill="#F23645"/>
<rect x="1283" y="490" width="10" height="4" fill="#F23645"/>
<rect x="1299" y="490" width="2" height="14" fill="#F23645"/>
<rect x="1295" y="493" width="10" height="10" fill="#F23645"/>
<rect x="1311" y="500" width="2" height="21" fill="#F23645"/>
<rect x="1307" y="502" width="10" height="11" fill="#F23645"/>
<rect x="1323" y="504" width="2" height="19" fill="#F23645"/>
<rect x="1319" y="512" width="10" height="6" fill="#F23645"/>
<rect x="1335" y="504" width="2" height="15" fill="#089981"/>
<rect x="1331" y="509" width="10" height="10" fill="#089981"/>
<rect x="1347" y="391" width="2" height="119" fill="#089981"/>
<rect x="1343" y="410" width="10" height="100" fill="#089981"/>
<rect x="1359" y="383" width="2" height="49" fill="#F23645"/>
<rect x="1355" y="409" width="10" height="18" fill="#F23645"/>
<rect x="1371" y="416" width="2" height="27" fill="#F23645"/>
<rect x="1367" y="425" width="10" height="2" fill="#F23645"/>
<rect x="1383" y="402" width="2" height="36" fill="#089981"/>
<rect x="1379" y="422" width="10" height="7" fill="#089981"/>
<rect x="1395" y="373" width="2" height="70" fill="#F23645"/>
<rect x="1391" y="421" width="10" height="2" fill="#F23645"/>
<rect x="1407" y="413" width="2" height="29" fill="#089981"/>
<rect x="1403" y="422" width="10" height="3" fill="#089981"/>
<rect x="1419" y="418" width="2" height="51" fill="#F23645"/>
<rect x="1415" y="422" width="10" height="30" fill="#F23645"/>
<rect x="1431" y="443" width="2" height="39" fill="#F23645"/>
<rect x="1427" y="451" width="10" height="8" fill="#F23645"/>
<rect x="1443" y="446" width="2" height="29" fill="#F23645"/>
<rect x="1439" y="458" width="10" height="12" fill="#F23645"/>
<rect x="1455" y="452" width="2" height="30" fill="#089981"/>
<rect x="1451" y="455" width="10" height="15" fill="#089981"/>
<rect x="1467" y="434" width="2" height="24" fill="#089981"/>
<rect x="1463" y="443" width="10" height="13" fill="#089981"/>
<rect x="1479" y="437" width="2" height="28" fill="#F23645"/>
<rect x="1475" y="443" width="10" height="17" fill="#F23645"/>
<rect x="1491" y="429" width="2" height="31" fill="#089981"/>
<rect x="1487" y="431" width="10" height="29" fill="#089981"/>
<rect x="1503" y="429" width="2" height="32" fill="#F23645"/>
<rect x="1499" y="431" width="10" height="22" fill="#F23645"/>
<rect x="1515" y="449" width="2" height="29" fill="#F23645"/>
<rect x="1511" y="452" width="10" height="20" fill="#F23645"/>
<rect x="1527" y="430" width="2" height="50" fill="#089981"/>
<rect x="1523" y="443" width="10" height="29" fill="#089981"/>
<rect x="1539" y="431" width="2" height="22" fill="#089981"/>
<rect x="1535" y="432" width="10" height="12" fill="#089981"/>
<rect x="1551" y="390" width="2" height="47" fill="#089981"/>
<rect x="1547" y="408" width="10" height="25" fill="#089981"/>
<rect x="1563" y="371" width="2" height="58" fill="#089981"/>
<rect x="1559" y="380" width="10" height="29" fill="#089981"/>
<rect x="1575" y="293" width="2" height="102" fill="#089981"/>
<rect x="1571" y="329" width="10" height="51" fill="#089981"/>
<rect x="1587" y="316" width="2" height="48" fill="#F23645"/>
<rect x="1583" y="329" width="10" height="11" fill="#F23645"/>
<rect x="1599" y="276" width="2" height="72" fill="#089981"/>
<rect x="1595" y="291" width="10" height="49" fill="#089981"/>
<rect x="1611" y="275" width="2" height="57" fill="#F23645"/>
<rect x="1607" y="290" width="10" height="24" fill="#F23645"/>
<rect x="1623" y="296" width="2" height="22" fill="#089981"/>
<rect x="1619" y="303" width="10" height="11" fill="#089981"/>
<rect x="1635" y="267" width="2" height="40" fill="#089981"/>
<rect x="1631" y="282" width="10" height="22" fill="#089981"/>
<rect x="1647" y="276" width="2" height="29" fill="#F23645"/>
<rect x="1643" y="281" width="10" height="2" fill="#F23645"/>
<rect x="1659" y="273" width="2" height="54" fill="#089981"/>
<rect x="1655" y="273" width="10" height="11" fill="#089981"/>
<rect x="1671" y="215" width="2" height="73" fill="#089981"/>
<rect x="1667" y="233" width="10" height="41" fill="#089981"/>
<rect x="1683" y="168" width="2" height="68" fill="#089981"/>
<rect x="1679" y="212" width="10" height="22" fill="#089981"/>
<rect x="1695" y="166" width="2" height="80" fill="#F23645"/>
<rect x="1691" y="212" width="10" height="12" fill="#F23645"/>
<rect x="1707" y="138" width="2" height="89" fill="#089981"/>
<rect x="1703" y="168" width="10" height="56" fill="#089981"/>
<rect x="1719" y="154" width="2" height="47" fill="#F23645"/>
<rect x="1715" y="168" width="10" height="25" fill="#F23645"/>
<rect x="1731" y="186" width="2" height="27" fill="#F23645"/>
<rect x="1727" y="191" width="10" height="2" fill="#F23645"/>
<rect x="1743" y="190" width="2" height="196" fill="#F23645"/>
<rect x="1739" y="193" width="10" height="89" fill="#F23645"/>
<rect x="1755" y="260" width="2" height="66" fill="#089981"/>
<rect x="1751" y="278" width="10" height="4" fill="#089981"/>
<rect x="1767" y="252" width="2" height="49" fill="#089981"/>
<rect x="1763" y="261" width="10" height="18" fill="#089981"/>
<rect x="1779" y="136" width="2" height="129" fill="#089981"/>
<rect x="1775" y="169" width="10" height="93" fill="#089981"/>
<rect x="1791" y="142" width="2" height="57" fill="#F23645"/>
<rect x="1787" y="169" width="10" height="13" fill="#F23645"/>
<rect x="1803" y="148" width="2" height="46" fill="#089981"/>
<rect x="1799" y="178" width="10" height="2" fill="#089981"/>
<rect x="1815" y="121" width="2" height="73" fill="#089981"/>
<rect x="1811" y="135" width="10" height="45" fill="#089981"/>
<rect x="1827" y="106" width="2" height="85" fill="#F23645"/>
<rect x="1823" y="135" width="10" height="40" fill="#F23645"/>
<rect x="1839" y="152" width="2" height="69" fill="#F23645"/>
<rect x="1835" y="174" width="10" height="38" fill="#F23645"/>
<rect x="1851" y="209" width="2" height="66" fill="#F23645"/>
<rect x="1847" y="211" width="10" height="60" fill="#F23645"/>
<rect x="1863" y="259" width="2" height="103" fill="#F23645"/>
<rect x="1859" y="270" width="10" height="71" fill="#F23645"/>
<rect x="1875" y="305" width="2" height="91" fill="#089981"/>
<rect x="1871" y="307" width="10" height="34" fill="#089981"/>
<rect x="1887" y="274" width="2" height="57" fill="#F23645"/>
<rect x="1883" y="307" width="10" height="16" fill="#F23645"/>
<rect x="1899" y="295" width="2" height="36" fill="#089981"/>
<rect x="1895" y="310" width="10" height="12" fill="#089981"/>
<rect x="1911" y="276" width="2" height="49" fill="#089981"/>
<rect x="1907" y="288" width="10" height="23" fill="#089981"/>
<rect x="1923" y="233" width="2" height="65" fill="#089981"/>
<rect x="1919" y="247" width="10" height="42" fill="#089981"/>
<rect x="1935" y="243" width="2" height="32" fill="#F23645"/>
<rect x="1931" y="247" width="10" height="11" fill="#F23645"/>
<rect x="1947" y="253" width="2" height="50" fill="#F23645"/>
<rect x="1943" y="257" width="10" height="40" fill="#F23645"/>
<rect x="1959" y="235" width="2" height="65" fill="#089981"/>
<rect x="1955" y="262" width="10" height="35" fill="#089981"/>
<rect x="1971" y="251" width="2" height="36" fill="#F23645"/>
<rect x="1967" y="261" width="10" height="2" fill="#F23645"/>
<rect x="1983" y="259" width="2" height="42" fill="#F23645"/>
<rect x="1979" y="264" width="10" height="31" fill="#F23645"/>
<rect x="1995" y="250" width="2" height="46" fill="#089981"/>
<rect x="1991" y="268" width="10" height="27" fill="#089981"/>
<rect x="2007" y="261" width="2" height="45" fill="#F23645"/>
<rect x="2003" y="268" width="10" height="37" fill="#F23645"/>
<rect x="2019" y="275" width="2" height="38" fill="#089981"/>
<rect x="2015" y="287" width="10" height="17" fill="#089981"/>
<rect x="2031" y="249" width="2" height="39" fill="#089981"/>
<rect x="2027" y="267" width="10" height="21" fill="#089981"/>
<rect x="2043" y="233" width="2" height="53" fill="#089981"/>
<rect x="2039" y="233" width="10" height="35" fill="#089981"/>
<rect x="2055" y="210" width="2" height="34" fill="#089981"/>
<rect x="2051" y="220" width="10" height="15" fill="#089981"/>
<rect x="2067" y="198" width="2" height="36" fill="#089981"/>
<rect x="2063" y="212" width="10" height="9" fill="#089981"/>
<rect x="2079" y="205" width="2" height="31" fill="#F23645"/>
<rect x="2075" y="212" width="10" height="20" fill="#F23645"/>
<rect x="2091" y="226" width="2" height="72" fill="#F23645"/>
<rect x="2087" y="231" width="10" height="67" fill="#F23645"/>
<rect x="2103" y="289" width="2" height="60" fill="#F23645"/>
<rect x="2099" y="298" width="10" height="31" fill="#F23645"/>
<rect x="2115" y="318" width="2" height="37" fill="#F23645"/>
<rect x="2111" y="328" width="10" height="18" fill="#F23645"/>
<rect x="2127" y="315" width="2" height="36" fill="#089981"/>
<rect x="2123" y="336" width="10" height="10" fill="#089981"/>
<rect x="2139" y="332" width="2" height="17" fill="#F23645"/>
<rect x="2135" y="336" width="10" height="9" fill="#F23645"/>
<rect x="2151" y="340" width="2" height="19" fill="#F23645"/>
<rect x="2147" y="344" width="10" height="9" fill="#F23645"/>
<rect x="2163" y="328" width="2" height="67" fill="#089981"/>
<rect x="2159" y="336" width="10" height="17" fill="#089981"/>
<rect x="2175" y="265" width="2" height="74" fill="#089981"/>
<rect x="2171" y="277" width="10" height="60" fill="#089981"/>
<rect x="2187" y="210" width="2" height="84" fill="#089981"/>
<rect x="2183" y="215" width="10" height="63" fill="#089981"/>
<rect x="2199" y="200" width="2" height="52" fill="#F23645"/>
<rect x="2195" y="215" width="10" height="31" fill="#F23645"/>
<rect x="2211" y="227" width="2" height="21" fill="#089981"/>
<rect x="2207" y="238" width="10" height="8" fill="#089981"/>
<rect x="2223" y="230" width="2" height="81" fill="#F23645"/>
<rect x="2219" y="238" width="10" height="60" fill="#F23645"/>
<rect x="2235" y="280" width="2" height="68" fill="#F23645"/>
<rect x="2231" y="297" width="10" height="40" fill="#F23645"/>
<rect x="2247" y="248" width="2" height="106" fill="#089981"/>
<rect x="2243" y="283" width="10" height="54" fill="#089981"/>
<rect x="2259" y="277" width="2" height="33" fill="#F23645"/>
<rect x="2255" y="283" width="10" height="13" fill="#F23645"/>
<rect x="20" y="294" width="2" height="2" fill="#F23645"/>
<rect x="26" y="294" width="2" height="2" fill="#F23645"/>
<rect x="32" y="294" width="2" height="2" fill="#F23645"/>
<rect x="38" y="294" width="2" height="2" fill="#F23645"/>
<rect x="44" y="294" width="2" height="2" fill="#F23645"/>
<rect x="50" y="294" width="2" height="2" fill="#F23645"/>
<rect x="56" y="294" width="2" height="2" fill="#F23645"/>
<rect x="62" y="294" width="2" height="2" fill="#F23645"/>
<rect x="68" y="294" width="2" height="2" fill="#F23645"/>
<rect x="74" y="294" width="2" height="2" fill="#F23645"/>
<rect x="80" y="294" width="2" height="2" fill="#F23645"/>
<rect x="86" y="294" width="2" height="2" fill="#F23645"/>
<rect x="92" y="294" width="2" height="2" fill="#F23645"/>
<rect x="98" y="294" width="2" height="2" fill="#F23645"/>
<rect x="104" y="294" width="2" height="2" fill="#F23645"/>
<rect x="110" y="294" width="2" height="2" fill="#F23645"/>
<rect x="116" y="294" width="2" height="2" fill="#F23645"/>
<rect x="122" y="294" width="2" height="2" fill="#F23645"/>
<rect x="128" y="294" width="2" height="2" fill="#F23645"/>
<rect x="134" y="294" width="2" height="2" fill="#F23645"/>
<rect x="140" y="294" width="2" height="2" fill="#F23645"/>
<rect x="146" y="294" width="2" height="2" fill="#F23645"/>
<rect x="152" y="294" width="2" height="2" fill="#F23645"/>
<rect x="158" y="294" width="2" height="2" fill="#F23645"/>
<rect x="164" y="294" width="2" height="2" fill="#F23645"/>
<rect x="170" y="294" width="2" height="2" fill="#F23645"/>
<rect x="176" y="294" width="2" height="2" fill="#F23645"/>
<rect x="182" y="294" width="2" height="2" fill="#F23645"/>
<rect x="188" y="294" width="2" height="2" fill="#F23645"/>
<rect x="194" y="294" width="2" height="2" fill="#F23645"/>
<rect x="200" y="294" width="2" height="2" fill="#F23645"/>
<rect x="206" y="294" width="2" height="2" fill="#F23645"/>
<rect x="212" y="294" width="2" height="2" fill="#F23645"/>
<rect x="218" y="294" width="2" height="2" fill="#F23645"/>
<rect x="224" y="294" width="2" height="2" fill="#F23645"/>
<rect x="230" y="294" width="2" height="2" fill="#F23645"/>
<rect x="236" y="294" width="2" height="2" fill="#F23645"/>
<rect x="242" y="294" width="2" height="2" fill="#F23645"/>
<rect x="248" y="294" width="2" height="2" fill="#F23645"/>
<rect x="254" y="294" width="2" height="2" fill="#F23645"/>
<rect x="260" y="294" width="2" height="2" fill="#F23645"/>
<rect x="266" y="294" width="2" height="2" fill="#F23645"/>
<rect x="272" y="294" width="2" height="2" fill="#F23645"/>
<rect x="278" y="294" width="2" height="2" fill="#F23645"/>
<rect x="284" y="294" width="2" height="2" fill="#F23645"/>
<rect x="290" y="294" width="2" height="2" fill="#F23645"/>
<rect x="296" y="294" width="2" height="2" fill="#F23645"/>
<rect x="302" y="294" width="2" height="2" fill="#F23645"/>
<rect x="308" y="294" width="2" height="2" fill="#F23645"/>
<rect x="314" y="294" width="2" height="2" fill="#F23645"/>
<rect x="320" y="294" width="2" height="2" fill="#F23645"/>
<rect x="326" y="294" width="2" height="2" fill="#F23645"/>
<rect x="332" y="294" width="2" height="2" fill="#F23645"/>
<rect x="338" y="294" width="2" height="2" fill="#F23645"/>
<rect x="344" y="294" width="2" height="2" fill="#F23645"/>
<rect x="350" y="294" width="2" height="2" fill="#F23645"/>
<rect x="356" y="294" width="2" height="2" fill="#F23645"/>
<rect x="362" y="294" width="2" height="2" fill="#F23645"/>
<rect x="368" y="294" width="2" height="2" fill="#F23645"/>
<rect x="374" y="294" width="2" height="2" fill="#F23645"/>
<rect x="380" y="294" width="2" height="2" fill="#F23645"/>
<rect x="386" y="294" width="2" height="2" fill="#F23645"/>
<rect x="392" y="294" width="2" height="2" fill="#F23645"/>
<rect x="398" y="294" width="2" height="2" fill="#F23645"/>
<rect x="404" y="294" width="2" height="2" fill="#F23645"/>
<rect x="410" y="294" width="2" height="2" fill="#F23645"/>
<rect x="416" y="294" width="2" height="2" fill="#F23645"/>
<rect x="422" y="294" width="2" height="2" fill="#F23645"/>
<rect x="428" y="294" width="2" height="2" fill="#F23645"/>
<rect x="434" y="294" width="2" height="2" fill="#F23645"/>
<rect x="440" y="294" width="2" height="2" fill="#F23645"/>
<rect x="446" y="294" width="2" height="2" fill="#F23645"/>
<rect x="452" y="294" width="2" height="2" fill="#F23645"/>
<rect x="458" y="294" width="2" height="2" fill="#F23645"/>
<rect x="464" y="294" width="2" height="2" fill="#F23645"/>
<rect x="470" y="294" width="2" height="2" fill="#F23645"/>
<rect x="476" y="294" width="2" height="2" fill="#F23645"/>
<rect x="482" y="294" width="2" height="2" fill="#F23645"/>
<rect x="488" y="294" width="2" height="2" fill="#F23645"/>
<rect x="494" y="294" width="2" height="2" fill="#F23645"/>
<rect x="500" y="294" width="2" height="2" fill="#F23645"/>
<rect x="506" y="294" width="2" height="2" fill="#F23645"/>
<rect x="512" y="294" width="2" height="2" fill="#F23645"/>
<rect x="518" y="294" width="2" height="2" fill="#F23645"/>
<rect x="524" y="294" width="2" height="2" fill="#F23645"/>
<rect x="530" y="294" width="2" height="2" fill="#F23645"/>
<rect x="536" y="294" width="2" height="2" fill="#F23645"/>
<rect x="542" y="294" width="2" height="2" fill="#F23645"/>
<rect x="548" y="294" width="2" height="2" fill="#F23645"/>
<rect x="554" y="294" width="2" height="2" fill="#F23645"/>
<rect x="560" y="294" width="2" height="2" fill="#F23645"/>
<rect x="566" y="294" width="2" height="2" fill="#F23645"/>
<rect x="572" y="294" width="2" height="2" fill="#F23645"/>
<rect x="578" y="294" width="2" height="2" fill="#F23645"/>
<rect x="584" y="294" width="2" height="2" fill="#F23645"/>
<rect x="590" y="294" width="2" height="2" fill="#F23645"/>
<rect x="596" y="294" width="2" height="2" fill="#F23645"/>
<rect x="602" y="294" width="2" height="2" fill="#F23645"/>
<rect x="608" y="294" width="2" height="2" fill="#F23645"/>
<rect x="614" y="294" width="2" height="2" fill="#F23645"/>
<rect x="620" y="294" width="2" height="2" fill="#F23645"/>
<rect x="626" y="294" width="2" height="2" fill="#F23645"/>
<rect x="632" y="294" width="2" height="2" fill="#F23645"/>
<rect x="638" y="294" width="2" height="2" fill="#F23645"/>
<rect x="644" y="294" width="2" height="2" fill="#F23645"/>
<rect x="650" y="294" width="2" height="2" fill="#F23645"/>
<rect x="656" y="294" width="2" height="2" fill="#F23645"/>
<rect x="662" y="294" width="2" height="2" fill="#F23645"/>
<rect x="668" y="294" width="2" height="2" fill="#F23645"/>
<rect x="674" y="294" width="2" height="2" fill="#F23645"/>
<rect x="680" y="294" width="2" height="2" fill="#F23645"/>
<rect x="686" y="294" width="2" height="2" fill="#F23645"/>
<rect x="692" y="294" width="2" height="2" fill="#F23645"/>
<rect x="698" y="294" width="2" height="2" fill="#F23645"/>
<rect x="704" y="294" width="2" height="2" fill="#F23645"/>
<rect x="710" y="294" width="2" height="2" fill="#F23645"/>
<rect x="716" y="294" width="2" height="2" fill="#F23645"/>
<rect x="722" y="294" width="2" height="2" fill="#F23645"/>
<rect x="728" y="294" width="2" height="2" fill="#F23645"/>
<rect x="734" y="294" width="2" height="2" fill="#F23645"/>
<rect x="740" y="294" width="2" height="2" fill="#F23645"/>
<rect x="746" y="294" width="2" height="2" fill="#F23645"/>
<rect x="752" y="294" width="2" height="2" fill="#F23645"/>
<rect x="758" y="294" width="2" height="2" fill="#F23645"/>
<rect x="764" y="294" width="2" height="2" fill="#F23645"/>
<rect x="770" y="294" width="2" height="2" fill="#F23645"/>
<rect x="776" y="294" width="2" height="2" fill="#F23645"/>
<rect x="782" y="294" width="2" height="2" fill="#F23645"/>
<rect x="788" y="294" width="2" height="2" fill="#F23645"/>
<rect x="794" y="294" width="2" height="2" fill="#F23645"/>
<rect x="800" y="294" width="2" height="2" fill="#F23645"/>
<rect x="806" y="294" width="2" height="2" fill="#F23645"/>
<rect x="812" y="294" width="2" height="2" fill="#F23645"/>
<rect x="818" y="294" width="2" height="2" fill="#F23645"/>
<rect x="824" y="294" width="2" height="2" fill="#F23645"/>
<rect x="830" y="294" width="2" height="2" fill="#F23645"/>
<rect x="836" y="294" width="2" height="2" fill="#F23645"/>
<rect x="842" y="294" width="2" height="2" fill="#F23645"/>
<rect x="848" y="294" width="2" height="2" fill="#F23645"/>
<rect x="854" y="294" width="2" height="2" fill="#F23645"/>
<rect x="860" y="294" width="2" height="2" fill="#F23645"/>
<rect x="866" y="294" width="2" height="2" fill="#F23645"/>
<rect x="872" y="294" width="2" height="2" fill="#F23645"/>
<rect x="878" y="294" width="2" height="2" fill="#F23645"/>
<rect x="884" y="294" width="2" height="2" fill="#F23645"/>
<rect x="890" y="294" width="2" height="2" fill="#F23645"/>
<rect x="896" y="294" width="2" height="2" fill="#F23645"/>
<rect x="902" y="294" width="2" height="2" fill="#F23645"/>
<rect x="908" y="294" width="2" height="2" fill="#F23645"/>
<rect x="914" y="294" width="2" height="2" fill="#F23645"/>
<rect x="920" y="294" width="2" height="2" fill="#F23645"/>
<rect x="926" y="294" width="2" height="2" fill="#F23645"/>
<rect x="932" y="294" width="2" height="2" fill="#F23645"/>
<rect x="938" y="294" width="2" height="2" fill="#F23645"/>
<rect x="944" y="294" width="2" height="2" fill="#F23645"/>
<rect x="950" y="294" width="2" height="2" fill="#F23645"/>
<rect x="956" y="294" width="2" height="2" fill="#F23645"/>
<rect x="962" y="294" width="2" height="2" fill="#F23645"/>
<rect x="968" y="294" width="2" height="2" fill="#F23645"/>
<rect x="974" y="294" width="2" height="2" fill="#F23645"/>
<rect x="980" y="294" width="2" height="2" fill="#F23645"/>
<rect x="986" y="294" width="2" height="2" fill="#F23645"/>
<rect x="992" y="294" width="2" height="2" fill="#F23645"/>
<rect x="998" y="294" width="2" height="2" fill="#F23645"/>
<rect x="1004" y="294" width="2" height="2" fill="#F23645"/>
<rect x="1010" y="294" width="2" height="2" fill="#F23645"/>
<rect x="1016" y="294" width="2" height="2" fill="#F23645"/>
<rect x="1022" y="294" width="2" height="2" fill="#F23645"/>
<rect x="1028" y="294" width="2" height="2" fill="#F23645"/>
<rect x="1034" y="294" width="2" height="2" fill="#F23645"/>
<rect x="1040" y="294" width="2" height="2" fill="#F23645"/>
<rect x="1046" y="294" width="2" height="2" fill="#F23645"/>
<rect x="1052" y="294" width="2" height="2" fill="#F23645"/>
<rect x="1058" y="294" width="2" height="2" fill="#F23645"/>
<rect x="1064" y="294" width="2" height="2" fill="#F23645"/>
<rect x="1070" y="294" width="2" height="2" fill="#F23645"/>
<rect x="1076" y="294" width="2" height="2" fill="#F23645"/>
<rect x="1082" y="294" width="2" height="2" fill="#F23645"/>
<rect x="1088" y="294" width="2" height="2" fill="#F23645"/>
<rect x="1094" y="294" width="2" height="2" fill="#F23645"/>
<rect x="1100" y="294" width="2" height="2" fill="#F23645"/>
<rect x="1106" y="294" width="2" height="2" fill="#F23645"/>
<rect x="1112" y="294" width="2" height="2" fill="#F23645"/>
<rect x="1118" y="294" width="2" height="2" fill="#F23645"/>
<rect x="1124" y="294" width="2" height="2" fill="#F23645"/>
<rect x="1130" y="294" width="2" height="2" fill="#F23645"/>
<rect x="1136" y="294" width="2" height="2" fill="#F23645"/>
<rect x="1142" y="294" width="2" height="2" fill="#F23645"/>
<rect x="1148" y="294" width="2" height="2" fill="#F23645"/>
<rect x="1154" y="294" width="2" height="2" fill="#F23645"/>
<rect x="1160" y="294" width="2" height="2" fill="#F23645"/>
<rect x="1166" y="294" width="2" height="2" fill="#F23645"/>
<rect x="1172" y="294" width="2" height="2" fill="#F23645"/>
<rect x="1178" y="294" width="2" height="2" fill="#F23645"/>
<rect x="1184" y="294" width="2" height="2" fill="#F23645"/>
<rect x="1190" y="294" width="2" height="2" fill="#F23645"/>
<rect x="1196" y="294" width="2" height="2" fill="#F23645"/>
<rect x="1202" y="294" width="2" height="2" fill="#F23645"/>
<rect x="1208" y="294" width="2" height="2" fill="#F23645"/>
<rect x="1214" y="294" width="2" height="2" fill="#F23645"/>
<rect x="1220" y="294" width="2" height="2" fill="#F23645"/>
<rect x="1226" y="294" width="2" height="2" fill="#F23645"/>
<rect x="1232" y="294" width="2" height="2" fill="#F23645"/>
<rect x="1238" y="294" width="2" height="2" fill="#F23645"/>
<rect x="1244" y="294" width="2" height="2" fill="#F23645"/>
<rect x="1250" y="294" width="2" height="2" fill="#F23645"/>
<rect x="1256" y="294" width="2" height="2" fill="#F23645"/>
<rect x="1262" y="294" width="2" height="2" fill="#F23645"/>
<rect x="1268" y="294" width="2" height="2" fill="#F23645"/>
<rect x="1274" y="294" width="2" height="2" fill="#F23645"/>
<rect x="1280" y="294" width="2" height="2" fill="#F23645"/>
<rect x="1286" y="294" width="2" height="2" fill="#F23645"/>
<rect x="1292" y="294" width="2" height="2" fill="#F23645"/>
<rect x="1298" y="294" width="2" height="2" fill="#F23645"/>
<rect x="1304" y="294" width="2" height="2" fill="#F23645"/>
<rect x="1310" y="294" width="2" height="2" fill="#F23645"/>
<rect x="1316" y="294" width="2" height="2" fill="#F23645"/>
<rect x="1322" y="294" width="2" height="2" fill="#F23645"/>
<rect x="1328" y="294" width="2" height="2" fill="#F23645"/>
<rect x="1334" y="294" width="2" height="2" fill="#F23645"/>
<rect x="1340" y="294" width="2" height="2" fill="#F23645"/>
<rect x="1346" y="294" width="2" height="2" fill="#F23645"/>
<rect x="1352" y="294" width="2" height="2" fill="#F23645"/>
<rect x="1358" y="294" width="2" height="2" fill="#F23645"/>
<rect x="1364" y="294" width="2" height="2" fill="#F23645"/>
<rect x="1370" y="294" width="2" height="2" fill="#F23645"/>
<rect x="1376" y="294" width="2" height="2" fill="#F23645"/>
<rect x="1382" y="294" width="2" height="2" fill="#F23645"/>
<rect x="1388" y="294" width="2" height="2" fill="#F23645"/>
<rect x="1394" y="294" width="2" height="2" fill="#F23645"/>
<rect x="1400" y="294" width="2" height="2" fill="#F23645"/>
<rect x="1406" y="294" width="2" height="2" fill="#F23645"/>
<rect x="1412" y="294" width="2" height="2" fill="#F23645"/>
<rect x="1418" y="294" width="2" height="2" fill="#F23645"/>
<rect x="1424" y="294" width="2" height="2" fill="#F23645"/>
<rect x="1430" y="294" width="2" height="2" fill="#F23645"/>
<rect x="1436" y="294" width="2" height="2" fill="#F23645"/>
<rect x="1442" y="294" width="2" height="2" fill="#F23645"/>
<rect x="1448" y="294" width="2" height="2" fill="#F23645"/>
<rect x="1454" y="294" width="2" height="2" fill="#F23645"/>
<rect x="1460" y="294" width="2" height="2" fill="#F23645"/>
<rect x="1466" y="294" width="2" height="2" fill="#F23645"/>
<rect x="1472" y="294" width="2" height="2" fill="#F23645"/>
<rect x="1478" y="294" width="2" height="2" fill="#F23645"/>
<rect x="1484" y="294" width="2" height="2" fill="#F23645"/>
<rect x="1490" y="294" width="2" height="2" fill="#F23645"/>
<rect x="1496" y="294" width="2" height="2" fill="#F23645"/>
<rect x="1502" y="294" width="2" height="2" fill="#F23645"/>
<rect x="1508" y="294" width="2" height="2" fill="#F23645"/>
<rect x="1514" y="294" width="2" height="2" fill="#F23645"/>
<rect x="1520" y="294" width="2" height="2" fill="#F23645"/>
<rect x="1526" y="294" width="2" height="2" fill="#F23645"/>
<rect x="1532" y="294" width="2" height="2" fill="#F23645"/>
<rect x="1538" y="294" width="2" height="2" fill="#F23645"/>
<rect x="1544" y="294" width="2" height="2" fill="#F23645"/>
<rect x="1550" y="294" width="2" height="2" fill="#F23645"/>
<rect x="1556" y="294" width="2" height="2" fill="#F23645"/>
<rect x="1562" y="294" width="2" height="2" fill="#F23645"/>
<rect x="1568" y="294" width="2" height="2" fill="#F23645"/>
<rect x="1574" y="294" width="2" height="2" fill="#F23645"/>
<rect x="1580" y="294" width="2" height="2" fill="#F23645"/>
<rect x="1586" y="294" width="2" height="2" fill="#F23645"/>
<rect x="1592" y="294" width="2" height="2" fill="#F23645"/>
<rect x="1598" y="294" width="2" height="2" fill="#F23645"/>
<rect x="1604" y="294" width="2" height="2" fill="#F23645"/>
<rect x="1610" y="294" width="2" height="2" fill="#F23645"/>
<rect x="1616" y="294" width="2" height="2" fill="#F23645"/>
<rect x="1622" y="294" width="2" height="2" fill="#F23645"/>
<rect x="1628" y="294" width="2" height="2" fill="#F23645"/>
<rect x="1634" y="294" width="2" height="2" fill="#F23645"/>
<rect x="1640" y="294" width="2" height="2" fill="#F23645"/>
<rect x="1646" y="294" width="2" height="2" fill="#F23645"/>
<rect x="1652" y="294" width="2" height="2" fill="#F23645"/>
<rect x="1658" y="294" width="2" height="2" fill="#F23645"/>
<rect x="1664" y="294" width="2" height="2" fill="#F23645"/>
<rect x="1670" y="294" width="2" height="2" fill="#F23645"/>
<rect x="1676" y="294" width="2" height="2" fill="#F23645"/>
<rect x="1682" y="294" width="2" height="2" fill="#F23645"/>
<rect x="1688" y="294" width="2" height="2" fill="#F23645"/>
<rect x="1694" y="294" width="2" height="2" fill="#F23645"/>
<rect x="1700" y="294" width="2" height="2" fill="#F23645"/>
<rect x="1706" y="294" width="2" height="2" fill="#F23645"/>
<rect x="1712" y="294" width="2" height="2" fill="#F23645"/>
<rect x="1718" y="294" width="2" height="2" fill="#F23645"/>
<rect x="1724" y="294" width="2" height="2" fill="#F23645"/>
<rect x="1730" y="294" width="2" height="2" fill="#F23645"/>
<rect x="1736" y="294" width="2" height="2" fill="#F23645"/>
<rect x="1742" y="294" width="2" height="2" fill="#F23645"/>
<rect x="1748" y="294" width="2" height="2" fill="#F23645"/>
<rect x="1754" y="294" width="2" height="2" fill="#F23645"/>
<rect x="1760" y="294" width="2" height="2" fill="#F23645"/>
<rect x="1766" y="294" width="2" height="2" fill="#F23645"/>
<rect x="1772" y="294" width="2" height="2" fill="#F23645"/>
<rect x="1778" y="294" width="2" height="2" fill="#F23645"/>
<rect x="1784" y="294" width="2" height="2" fill="#F23645"/>
<rect x="1790" y="294" width="2" height="2" fill="#F23645"/>
<rect x="1796" y="294" width="2" height="2" fill="#F23645"/>
<rect x="1802" y="294" width="2" height="2" fill="#F23645"/>
<rect x="1808" y="294" width="2" height="2" fill="#F23645"/>
<rect x="1814" y="294" width="2" height="2" fill="#F23645"/>
<rect x="1820" y="294" width="2" height="2" fill="#F23645"/>
<rect x="1826" y="294" width="2" height="2" fill="#F23645"/>
<rect x="1832" y="294" width="2" height="2" fill="#F23645"/>
<rect x="1838" y="294" width="2" height="2" fill="#F23645"/>
<rect x="1844" y="294" width="2" height="2" fill="#F23645"/>
<rect x="1850" y="294" width="2" height="2" fill="#F23645"/>
<rect x="1856" y="294" width="2" height="2" fill="#F23645"/>
<rect x="1862" y="294" width="2" height="2" fill="#F23645"/>
<rect x="1868" y="294" width="2" height="2" fill="#F23645"/>
<rect x="1874" y="294" width="2" height="2" fill="#F23645"/>
<rect x="1880" y="294" width="2" height="2" fill="#F23645"/>
<rect x="1886" y="294" width="2" height="2" fill="#F23645"/>
<rect x="1892" y="294" width="2" height="2" fill="#F23645"/>
<rect x="1898" y="294" width="2" height="2" fill="#F23645"/>
<rect x="1904" y="294" width="2" height="2" fill="#F23645"/>
<rect x="1910" y="294" width="2" height="2" fill="#F23645"/>
<rect x="1916" y="294" width="2" height="2" fill="#F23645"/>
<rect x="1922" y="294" width="2" height="2" fill="#F23645"/>
<rect x="1928" y="294" width="2" height="2" fill="#F23645"/>
<rect x="1934" y="294" width="2" height="2" fill="#F23645"/>
<rect x="1940" y="294" width="2" height="2" fill="#F23645"/>
<rect x="1946" y="294" width="2" height="2" fill="#F23645"/>
<rect x="1952" y="294" width="2" height="2" fill="#F23645"/>
<rect x="1958" y="294" width="2" height="2" fill="#F23645"/>
<rect x="1964" y="294" width="2" height="2" fill="#F23645"/>
<rect x="1970" y="294" width="2" height="2" fill="#F23645"/>
<rect x="1976" y="294" width="2" height="2" fill="#F23645"/>
<rect x="1982" y="294" width="2" height="2" fill="#F23645"/>
<rect x="1988" y="294" width="2" height="2" fill="#F23645"/>
<rect x="1994" y="294" width="2" height="2" fill="#F23645"/>
<rect x="2000" y="294" width="2" height="2" fill="#F23645"/>
<rect x="2006" y="294" width="2" height="2" fill="#F23645"/>
<rect x="2012" y="294" width="2" height="2" fill="#F23645"/>
<rect x="2018" y="294" width="2" height="2" fill="#F23645"/>
<rect x="2024" y="294" width="2" height="2" fill="#F23645"/>
<rect x="2030" y="294" width="2" height="2" fill="#F23645"/>
<rect x="2036" y="294" width="2" height="2" fill="#F23645"/>
<rect x="2042" y="294" width="2" height="2" fill="#F23645"/>
<rect x="2048" y="294" width="2" height="2" fill="#F23645"/>
<rect x="2054" y="294" width="2" height="2" fill="#F23645"/>
<rect x="2060" y="294" width="2" height="2" fill="#F23645"/>
<rect x="2066" y="294" width="2" height="2" fill="#F23645"/>
<rect x="2072" y="294" width="2" height="2" fill="#F23645"/>
<rect x="2078" y="294" width="2" height="2" fill="#F23645"/>
<rect x="2084" y="294" width="2" height="2" fill="#F23645"/>
<rect x="2090" y="294" width="2" height="2" fill="#F23645"/>
<rect x="2096" y="294" width="2" height="2" fill="#F23645"/>
<rect x="2102" y="294" width="2" height="2" fill="#F23645"/>
<rect x="2108" y="294" width="2" height="2" fill="#F23645"/>
<rect x="2114" y="294" width="2" height="2" fill="#F23645"/>
<rect x="2120" y="294" width="2" height="2" fill="#F23645"/>
<rect x="2126" y="294" width="2" height="2" fill="#F23645"/>
<rect x="2132" y="294" width="2" height="2" fill="#F23645"/>
<rect x="2138" y="294" width="2" height="2" fill="#F23645"/>
<rect x="2144" y="294" width="2" height="2" fill="#F23645"/>
<rect x="2150" y="294" width="2" height="2" fill="#F23645"/>
<rect x="2156" y="294" width="2" height="2" fill="#F23645"/>
<rect x="2162" y="294" width="2" height="2" fill="#F23645"/>
<rect x="2168" y="294" width="2" height="2" fill="#F23645"/>
<rect x="2174" y="294" width="2" height="2" fill="#F23645"/>
<rect x="2180" y="294" width="2" height="2" fill="#F23645"/>
<rect x="2186" y="294" width="2" height="2" fill="#F23645"/>
<rect x="2192" y="294" width="2" height="2" fill="#F23645"/>
<rect x="2198" y="294" width="2" height="2" fill="#F23645"/>
<rect x="2204" y="294" width="2" height="2" fill="#F23645"/>
<rect x="2210" y="294" width="2" height="2" fill="#F23645"/>
<rect x="2216" y="294" width="2" height="2" fill="#F23645"/>
<rect x="2222" y="294" width="2" height="2" fill="#F23645"/>
<rect x="2228" y="294" width="2" height="2" fill="#F23645"/>
<rect x="2234" y="294" width="2" height="2" fill="#F23645"/>
<rect x="2240" y="294" width="2" height="2" fill="#F23645"/>
<rect x="2246" y="294" width="2" height="2" fill="#F23645"/>
<rect x="2252" y="294" width="2" height="2" fill="#F23645"/>
<rect x="2258" y="294" width="2" height="2" fill="#F23645"/>
<rect x="2264" y="294" width="2" height="2" fill="#F23645"/>
<rect x="2270" y="294" width="2" height="2" fill="#F23645"/>
<rect x="2276" y="294" width="2" height="2" fill="#F23645"/>
<rect x="2282" y="294" width="2" height="2" fill="#F23645"/>
<rect x="2288" y="294" width="2" height="2" fill="#F23645"/>
<rect x="2294" y="294" width="2" height="2" fill="#F23645"/>
<rect x="2300" y="294" width="2" height="2" fill="#F23645"/>
<rect x="2306" y="294" width="2" height="2" fill="#F23645"/>
<rect x="2312" y="294" width="2" height="2" fill="#F23645"/>
<rect x="2318" y="294" width="2" height="2" fill="#F23645"/>
<rect x="2324" y="294" width="2" height="2" fill="#F23645"/>
<rect x="2330" y="294" width="2" height="2" fill="#F23645"/>
<rect x="2336" y="294" width="2" height="2" fill="#F23645"/>
<rect x="2342" y="294" width="2" height="2" fill="#F23645"/>
<rect x="2348" y="294" width="2" height="2" fill="#F23645"/>
<rect x="2354" y="294" width="2" height="2" fill="#F23645"/>
<rect x="2360" y="294" width="2" height="2" fill="#F23645"/>
<rect x="2366" y="294" width="2" height="2" fill="#F23645"/>
<rect x="2372" y="294" width="2" height="2" fill="#F23645"/>
<rect x="2378" y="294" width="2" height="2" fill="#F23645"/>
<rect x="2384" y="294" width="2" height="2" fill="#F23645"/>
</g>
<g fill="none" stroke-width="2" shape-rendering="crispEdges">
<path d="M20 642H2386M20 793H2386" stroke="#787B86" stroke-dasharray="10 12"/>
<path d="M20 717H2386" stroke="#787B86" stroke-opacity="0.5" stroke-dasharray="10 12"/>
</g>
<g clip-path="url(#plot)">
<clipPath id="cOB"><rect x="20" y="578" width="2366" height="64"/></clipPath>
<clipPath id="cOS"><rect x="20" y="793" width="2366" height="48"/></clipPath>
<polygon points="20,703.0 28,697.5 40,704.0 52,701.6 64,731.9 76,736.8 88,757.0 100,771.2 112,759.0 124,746.6 136,755.4 148,748.6 160,752.1 172,745.4 184,754.5 196,772.7 208,792.0 220,801.2 232,818.1 244,796.7 256,807.5 268,771.7 280,779.6 292,779.2 304,788.2 316,772.1 328,773.7 340,774.7 352,784.1 364,782.9 376,764.3 388,767.0 400,767.8 412,755.4 424,750.5 436,746.2 448,700.7 460,701.6 472,716.2 484,730.9 496,753.1 508,759.2 520,754.5 532,750.7 544,753.1 556,765.5 568,743.7 580,761.3 592,752.1 604,763.3 616,773.9 628,773.9 640,761.9 652,739.9 664,734.0 676,738.0 688,728.5 700,719.3 712,730.5 724,741.3 736,747.8 748,740.3 760,723.4 772,717.7 784,693.2 796,682.8 808,698.1 820,668.1 832,658.0 844,670.0 856,663.9 868,641.5 880,651.6 892,655.1 904,675.1 916,725.6 928,749.9 940,754.1 952,741.3 964,743.1 976,732.5 988,735.8 1000,735.0 1012,748.2 1024,745.6 1036,729.3 1048,728.0 1060,738.6 1072,688.1 1084,706.4 1096,714.2 1108,724.8 1120,709.5 1132,706.7 1144,682.8 1156,705.0 1168,708.9 1180,726.4 1192,724.0 1204,753.5 1216,749.9 1228,740.3 1240,738.4 1252,719.9 1264,705.6 1276,736.0 1288,739.3 1300,750.1 1312,761.3 1324,767.0 1336,751.5 1348,653.1 1360,672.2 1372,673.8 1384,669.4 1396,672.2 1408,670.0 1420,705.2 1432,712.8 1444,724.8 1456,709.9 1468,697.9 1480,716.4 1492,690.4 1504,712.4 1516,728.9 1528,704.4 1540,695.9 1552,676.7 1564,659.4 1576,635.8 1588,646.5 1600,626.8 1612,647.6 1624,643.5 1636,635.1 1648,636.2 1660,631.7 1672,617.0 1684,610.5 1696,621.7 1708,604.8 1720,628.8 1732,629.4 1744,698.7 1756,696.7 1768,687.9 1780,651.0 1792,658.8 1804,658.2 1816,642.7 1828,669.2 1840,691.8 1852,721.3 1864,749.6 1876,733.6 1888,739.5 1900,733.6 1912,722.8 1924,704.2 1936,709.3 1948,727.2 1960,711.8 1972,712.4 1984,727.0 1996,714.0 2008,731.1 2020,723.2 2032,712.4 2044,696.1 2056,690.4 2068,686.3 2080,698.5 2092,734.0 2104,747.2 2116,754.7 2128,748.6 2140,752.5 2152,756.6 2164,745.0 2176,708.5 2188,680.4 2200,697.5 2212,694.4 2224,724.6 2236,742.3 2248,716.4 2260,722.1 2260,642 20,642" fill="url(#gOB)" clip-path="url(#cOB)"/>
<polygon points="20,703.0 28,697.5 40,704.0 52,701.6 64,731.9 76,736.8 88,757.0 100,771.2 112,759.0 124,746.6 136,755.4 148,748.6 160,752.1 172,745.4 184,754.5 196,772.7 208,792.0 220,801.2 232,818.1 244,796.7 256,807.5 268,771.7 280,779.6 292,779.2 304,788.2 316,772.1 328,773.7 340,774.7 352,784.1 364,782.9 376,764.3 388,767.0 400,767.8 412,755.4 424,750.5 436,746.2 448,700.7 460,701.6 472,716.2 484,730.9 496,753.1 508,759.2 520,754.5 532,750.7 544,753.1 556,765.5 568,743.7 580,761.3 592,752.1 604,763.3 616,773.9 628,773.9 640,761.9 652,739.9 664,734.0 676,738.0 688,728.5 700,719.3 712,730.5 724,741.3 736,747.8 748,740.3 760,723.4 772,717.7 784,693.2 796,682.8 808,698.1 820,668.1 832,658.0 844,670.0 856,663.9 868,641.5 880,651.6 892,655.1 904,675.1 916,725.6 928,749.9 940,754.1 952,741.3 964,743.1 976,732.5 988,735.8 1000,735.0 1012,748.2 1024,745.6 1036,729.3 1048,728.0 1060,738.6 1072,688.1 1084,706.4 1096,714.2 1108,724.8 1120,709.5 1132,706.7 1144,682.8 1156,705.0 1168,708.9 1180,726.4 1192,724.0 1204,753.5 1216,749.9 1228,740.3 1240,738.4 1252,719.9 1264,705.6 1276,736.0 1288,739.3 1300,750.1 1312,761.3 1324,767.0 1336,751.5 1348,653.1 1360,672.2 1372,673.8 1384,669.4 1396,672.2 1408,670.0 1420,705.2 1432,712.8 1444,724.8 1456,709.9 1468,697.9 1480,716.4 1492,690.4 1504,712.4 1516,728.9 1528,704.4 1540,695.9 1552,676.7 1564,659.4 1576,635.8 1588,646.5 1600,626.8 1612,647.6 1624,643.5 1636,635.1 1648,636.2 1660,631.7 1672,617.0 1684,610.5 1696,621.7 1708,604.8 1720,628.8 1732,629.4 1744,698.7 1756,696.7 1768,687.9 1780,651.0 1792,658.8 1804,658.2 1816,642.7 1828,669.2 1840,691.8 1852,721.3 1864,749.6 1876,733.6 1888,739.5 1900,733.6 1912,722.8 1924,704.2 1936,709.3 1948,727.2 1960,711.8 1972,712.4 1984,727.0 1996,714.0 2008,731.1 2020,723.2 2032,712.4 2044,696.1 2056,690.4 2068,686.3 2080,698.5 2092,734.0 2104,747.2 2116,754.7 2128,748.6 2140,752.5 2152,756.6 2164,745.0 2176,708.5 2188,680.4 2200,697.5 2212,694.4 2224,724.6 2236,742.3 2248,716.4 2260,722.1 2260,793 20,793" fill="url(#gOS)" clip-path="url(#cOS)"/>
<polyline points="20,743.3 28,739.9 40,735.4 52,730.5 64,727.2 76,724.8 88,725.2 100,726.2 112,727.4 124,727.6 136,729.3 148,731.5 160,734.0 172,736.8 184,740.3 196,745.8 208,752.1 220,759.6 232,765.9 244,770.0 256,773.1 268,773.1 280,774.3 292,776.7 304,779.0 316,780.8 328,782.5 340,784.9 352,787.1 364,787.7 376,785.9 388,783.5 400,780.0 412,776.7 424,772.7 436,770.6 448,765.1 460,759.6 472,754.5 484,751.1 496,749.6 508,748.6 520,746.6 532,744.3 544,743.3 556,742.9 568,741.3 580,741.9 592,741.9 604,743.3 616,748.2 628,753.1 640,756.6 652,757.6 664,756.4 676,755.1 688,753.1 700,751.1 712,749.2 724,747.4 736,747.4 748,746.2 760,744.3 772,740.7 784,735.0 796,728.5 808,723.6 820,718.7 832,713.4 844,708.5 856,704.0 868,698.7 880,693.2 892,686.9 904,681.4 916,680.4 928,682.2 940,684.9 952,688.5 964,692.6 976,695.2 988,700.1 1000,705.6 1012,711.3 1024,717.3 1036,723.2 1048,728.5 1060,734.4 1072,735.4 1084,733.8 1096,731.3 1108,729.1 1120,726.8 1132,724.2 1144,720.9 1156,718.5 1168,716.8 1180,715.0 1192,713.6 1204,715.2 1216,717.0 1228,717.3 1240,720.7 1252,722.1 1264,721.3 1276,722.5 1288,724.4 1300,727.6 1312,732.9 1324,737.2 1336,740.3 1348,735.4 1360,731.5 1372,725.6 1384,719.7 1396,715.2 1408,710.3 1420,709.1 1432,709.3 1444,708.5 1456,706.5 1468,703.0 1480,699.5 1492,694.2 1504,691.4 1516,696.7 1528,699.1 1540,700.7 1552,701.4 1564,700.5 1576,697.9 1588,693.8 1600,687.3 1612,681.8 1624,677.5 1636,673.2 1648,667.3 1660,663.1 1672,656.3 1684,647.6 1696,641.7 1708,635.5 1720,631.9 1732,630.0 1744,634.7 1756,638.2 1768,642.1 1780,642.3 1792,643.7 1804,645.3 1816,646.1 1828,648.4 1840,653.5 1852,661.8 1864,671.2 1876,680.4 1888,688.3 1900,695.4 1912,696.9 1924,697.3 1936,698.9 1948,704.6 1960,708.5 1972,712.2 1984,717.5 1996,721.3 2008,724.0 2020,724.0 2032,721.7 2044,719.3 2056,716.2 2068,712.2 2080,710.1 2092,712.4 2104,715.2 2116,717.3 2128,720.3 2140,723.0 2152,725.2 2164,727.2 2176,725.4 2188,722.7 2200,721.3 2212,720.9 2224,723.8 2236,727.8 2248,728.9 2260,728.2" fill="none" stroke="#FDD835" stroke-width="2" stroke-linejoin="round" stroke-linecap="round"/>
<polyline points="20,703.0 28,697.5 40,704.0 52,701.6 64,731.9 76,736.8 88,757.0 100,771.2 112,759.0 124,746.6 136,755.4 148,748.6 160,752.1 172,745.4 184,754.5 196,772.7 208,792.0 220,801.2 232,818.1 244,796.7 256,807.5 268,771.7 280,779.6 292,779.2 304,788.2 316,772.1 328,773.7 340,774.7 352,784.1 364,782.9 376,764.3 388,767.0 400,767.8 412,755.4 424,750.5 436,746.2 448,700.7 460,701.6 472,716.2 484,730.9 496,753.1 508,759.2 520,754.5 532,750.7 544,753.1 556,765.5 568,743.7 580,761.3 592,752.1 604,763.3 616,773.9 628,773.9 640,761.9 652,739.9 664,734.0 676,738.0 688,728.5 700,719.3 712,730.5 724,741.3 736,747.8 748,740.3 760,723.4 772,717.7 784,693.2 796,682.8 808,698.1 820,668.1 832,658.0 844,670.0 856,663.9 868,641.5 880,651.6 892,655.1 904,675.1 916,725.6 928,749.9 940,754.1 952,741.3 964,743.1 976,732.5 988,735.8 1000,735.0 1012,748.2 1024,745.6 1036,729.3 1048,728.0 1060,738.6 1072,688.1 1084,706.4 1096,714.2 1108,724.8 1120,709.5 1132,706.7 1144,682.8 1156,705.0 1168,708.9 1180,726.4 1192,724.0 1204,753.5 1216,749.9 1228,740.3 1240,738.4 1252,719.9 1264,705.6 1276,736.0 1288,739.3 1300,750.1 1312,761.3 1324,767.0 1336,751.5 1348,653.1 1360,672.2 1372,673.8 1384,669.4 1396,672.2 1408,670.0 1420,705.2 1432,712.8 1444,724.8 1456,709.9 1468,697.9 1480,716.4 1492,690.4 1504,712.4 1516,728.9 1528,704.4 1540,695.9 1552,676.7 1564,659.4 1576,635.8 1588,646.5 1600,626.8 1612,647.6 1624,643.5 1636,635.1 1648,636.2 1660,631.7 1672,617.0 1684,610.5 1696,621.7 1708,604.8 1720,628.8 1732,629.4 1744,698.7 1756,696.7 1768,687.9 1780,651.0 1792,658.8 1804,658.2 1816,642.7 1828,669.2 1840,691.8 1852,721.3 1864,749.6 1876,733.6 1888,739.5 1900,733.6 1912,722.8 1924,704.2 1936,709.3 1948,727.2 1960,711.8 1972,712.4 1984,727.0 1996,714.0 2008,731.1 2020,723.2 2032,712.4 2044,696.1 2056,690.4 2068,686.3 2080,698.5 2092,734.0 2104,747.2 2116,754.7 2128,748.6 2140,752.5 2152,756.6 2164,745.0 2176,708.5 2188,680.4 2200,697.5 2212,694.4 2224,724.6 2236,742.3 2248,716.4 2260,722.1" fill="none" stroke="#7E57C2" stroke-width="2" stroke-linejoin="round" stroke-linecap="round"/>
<polyline points="20,1014.6 28,1010.4 40,1011.0 52,1006.7 64,1012.2 76,1021.4 88,1027.9 100,1034.8 112,1034.0 124,1033.4 136,1035.0 148,1036.6 160,1038.7 172,1040.9 184,1038.7 196,1043.2 208,1049.1 220,1054.4 232,1060.9 244,1058.4 256,1071.7 268,1060.1 280,1064.6 292,1064.8 304,1071.9 316,1068.8 328,1066.4 340,1067.2 352,1071.3 364,1068.6 376,1065.4 388,1070.7 400,1069.0 412,1063.5 424,1058.5 436,1058.2 448,1046.6 460,1049.3 472,1051.1 484,1056.4 496,1061.5 508,1064.8 520,1066.6 532,1063.1 544,1062.9 556,1065.8 568,1062.1 580,1067.6 592,1064.2 604,1068.4 616,1071.9 628,1075.0 640,1074.1 652,1070.1 664,1068.2 676,1066.4 688,1063.3 700,1061.3 712,1062.9 724,1065.2 736,1066.6 748,1065.8 760,1055.0 772,1057.6 784,1052.5 796,1044.6 808,1049.1 820,1041.3 832,1033.6 844,1039.9 856,1038.7 868,1033.8 880,1035.2 892,1035.0 904,1039.9 916,1052.5 928,1062.1 940,1063.3 952,1056.6 964,1058.0 976,1054.8 988,1064.6 1000,1067.0 1012,1071.7 1024,1070.9 1036,1067.8 1048,1069.3 1060,1069.2 1072,1055.6 1084,1058.9 1096,1060.1 1108,1063.5 1120,1059.9 1132,1058.4 1144,1050.7 1156,1056.2 1168,1058.0 1180,1059.1 1192,1058.5 1204,1064.4 1216,1059.9 1228,1058.9 1240,1054.6 1252,1051.1 1264,1051.1 1276,1057.2 1288,1061.1 1300,1063.7 1312,1064.0 1324,1066.8 1336,1065.4 1348,1031.1 1360,1059.5 1372,1056.8 1384,1059.7 1396,1081.1 1408,1067.4 1420,1077.0 1432,1069.9 1444,1080.5 1456,1065.0 1468,1060.7 1480,1070.1 1492,1049.3 1504,1056.8 1516,1064.8 1528,1049.5 1540,1028.9 1552,1018.7 1564,990.2 1576,971.7 1588,970.4 1600,947.8 1612,954.9 1624,950.5 1636,946.4 1648,939.1 1660,910.3 1672,891.6 1684,901.4 1696,912.4 1708,905.0 1720,913.0 1732,909.1 1744,906.9 1756,897.3 1768,889.7 1780,869.6 1792,876.9 1804,882.8 1816,868.8 1828,884.2 1840,895.9 1852,913.4 1864,935.6 1876,907.1 1888,916.4 1900,915.2 1912,907.9 1924,900.7 1936,899.9 1948,906.7 1960,904.4 1972,901.8 1984,905.8 1996,902.4 2008,913.8 2020,911.3 2032,910.1 2044,900.7 2056,896.7 2068,895.2 2080,901.8 2092,916.6 2104,921.3 2116,925.6 2128,926.8 2140,928.5 2152,930.1 2164,913.4 2176,904.2 2188,891.0 2200,901.6 2212,901.8 2224,911.1 2236,930.1 2248,916.4 2260,917.1" fill="none" stroke="#999915" stroke-width="2" stroke-linejoin="round" stroke-linecap="round"/>
</g>
<g shape-rendering="crispEdges">
<rect x="19" y="53" width="2508" height="2" fill="#EEF0F5"/>
<rect x="19" y="1159" width="2508" height="2" fill="#EEF0F5"/>
<rect x="19" y="53" width="2" height="1108" fill="#EEF0F5"/>
<rect x="2525" y="53" width="2" height="1108" fill="#EEF0F5"/>
<rect x="21" y="577" width="2505" height="2" fill="#E0E3EB"/>
<rect x="21" y="841" width="2505" height="2" fill="#E0E3EB"/>
</g>
<path d="M2388 278H2468a4 4 0 0 1 4 4V308a4 4 0 0 1 -4 4H2388Z" fill="#F23645"/>
<path d="M2388 541H2476a4 4 0 0 1 4 4V571a4 4 0 0 1 -4 4H2388Z" fill="#EF5350"/>
<path d="M2388 705H2468a4 4 0 0 1 4 4V735a4 4 0 0 1 -4 4H2388Z" fill="#7E57C2"/>
<path d="M2388 739H2468a4 4 0 0 1 4 4V769a4 4 0 0 1 -4 4H2388Z" fill="#FDD835"/>
<path d="M2388 900H2514a4 4 0 0 1 4 4V930a4 4 0 0 1 -4 4H2388Z" fill="#999915"/>
<text x="20.02" y="38.9" font-size="24" fill="#131722" stroke="#131722" stroke-width="0.4" textLength="103.47" lengthAdjust="spacingAndGlyphs">Published</text>
<text x="130.22" y="38.9" font-size="24" fill="#131722" stroke="#131722" stroke-width="0.4" textLength="26" lengthAdjust="spacingAndGlyphs">on</text>
<text x="163.38" y="38.9" font-size="24" fill="#131722" stroke="#131722" stroke-width="0.4" textLength="189.14" lengthAdjust="spacingAndGlyphs">TradingView.com,</text>
<text x="361.2" y="38.9" font-size="24" fill="#131722" stroke="#131722" stroke-width="0.4" textLength="36.49" lengthAdjust="spacingAndGlyphs">Jan</text>
<text x="404.7" y="38.9" font-size="24" fill="#131722" stroke="#131722" stroke-width="0.4" textLength="34.21" lengthAdjust="spacingAndGlyphs">21,</text>
<text x="446.1" y="38.9" font-size="24" fill="#131722" stroke="#131722" stroke-width="0.4" textLength="49.79" lengthAdjust="spacingAndGlyphs">2025</text>
<text x="503.03" y="38.9" font-size="24" fill="#131722" stroke="#131722" stroke-width="0.4" textLength="59.63" lengthAdjust="spacingAndGlyphs">07:34</text>
<text x="570.65" y="38.9" font-size="24" fill="#131722" stroke="#131722" stroke-width="0.4" textLength="43" lengthAdjust="spacingAndGlyphs">UTC</text>
<text x="35.35" y="93.1" font-size="24" fill="#131722" stroke="#131722" stroke-width="0.4" textLength="43.66" lengthAdjust="spacingAndGlyphs">LDO</text>
<text x="88.42" y="93.1" font-size="24" fill="#131722" stroke="#131722" stroke-width="0.4" textLength="6.37" lengthAdjust="spacingAndGlyphs">/</text>
<text x="106.08" y="93.1" font-size="24" fill="#131722" stroke="#131722" stroke-width="0.4" textLength="103.7" lengthAdjust="spacingAndGlyphs">TetherUS,</text>
<text x="218.15" y="93.1" font-size="24" fill="#131722" stroke="#131722" stroke-width="0.4" textLength="35.89" lengthAdjust="spacingAndGlyphs">1D,</text>
<text x="261.32" y="93.1" font-size="24" fill="#131722" stroke="#131722" stroke-width="0.4" textLength="84.74" lengthAdjust="spacingAndGlyphs">Binance</text>
<text x="360.12" y="93.1" font-size="24" fill="#131722" stroke="#131722" stroke-width="0.4" textLength="15.95" lengthAdjust="spacingAndGlyphs">O</text>
<text x="378.15" y="93.1" font-size="24" fill="#F23645" stroke="#F23645" stroke-width="0.4" textLength="57.42" lengthAdjust="spacingAndGlyphs">1.822</text>
<text x="450.02" y="93.1" font-size="24" fill="#131722" stroke="#131722" stroke-width="0.4" textLength="16.65" lengthAdjust="spacingAndGlyphs">H</text>
<text x="467.25" y="93.1" font-size="24" fill="#F23645" stroke="#F23645" stroke-width="0.4" textLength="57.98" lengthAdjust="spacingAndGlyphs">1.847</text>
<text x="538.93" y="93.1" font-size="24" fill="#131722" stroke="#131722" stroke-width="0.4" textLength="12.8" lengthAdjust="spacingAndGlyphs">L</text>
<text x="553.05" y="93.1" font-size="24" fill="#F23645" stroke="#F23645" stroke-width="0.4" textLength="57.77" lengthAdjust="spacingAndGlyphs">1.720</text>
<text x="624.73" y="93.1" font-size="24" fill="#131722" stroke="#131722" stroke-width="0.4" textLength="14.95" lengthAdjust="spacingAndGlyphs">C</text>
<text x="641.05" y="93.1" font-size="24" fill="#F23645" stroke="#F23645" stroke-width="0.4" textLength="57.98" lengthAdjust="spacingAndGlyphs">1.777</text>
<text x="714" y="93.1" font-size="24" fill="#F23645" stroke="#F23645" stroke-width="0.4" textLength="69.91" lengthAdjust="spacingAndGlyphs">−0.046</text>
<text x="792.98" y="93.1" font-size="24" fill="#F23645" stroke="#F23645" stroke-width="0.4" textLength="90.41" lengthAdjust="spacingAndGlyphs">(−2.52%)</text>
<text x="36.92" y="126.8" font-size="24" fill="#131722" stroke="#131722" stroke-width="0.4" textLength="31.67" lengthAdjust="spacingAndGlyphs">Vol</text>
<text x="77.03" y="126.8" font-size="24" fill="#131722" stroke="#131722" stroke-width="0.4" textLength="5.1" lengthAdjust="spacingAndGlyphs">·</text>
<text x="91.35" y="126.8" font-size="24" fill="#131722" stroke="#131722" stroke-width="0.4" textLength="43.66" lengthAdjust="spacingAndGlyphs">LDO</text>
<text x="149.1" y="126.8" font-size="24" fill="#EF5350" stroke="#EF5350" stroke-width="0.4" textLength="46.88" lengthAdjust="spacingAndGlyphs">9.17</text>
<text x="198.13" y="126.8" font-size="24" fill="#EF5350" stroke="#EF5350" stroke-width="0.4" textLength="19.56" lengthAdjust="spacingAndGlyphs">M</text>
<text x="35.85" y="618.2" font-size="24" fill="#131722" stroke="#131722" stroke-width="0.4" textLength="32.55" lengthAdjust="spacingAndGlyphs">RSI</text>
<text x="76.08" y="618.2" font-size="24" fill="#131722" stroke="#131722" stroke-width="0.4" textLength="42.03" lengthAdjust="spacingAndGlyphs">(14,</text>
<text x="125.22" y="618.2" font-size="24" fill="#131722" stroke="#131722" stroke-width="0.4" textLength="63.5" lengthAdjust="spacingAndGlyphs">close)</text>
<text x="203.28" y="618.2" font-size="24" fill="#7E57C2" stroke="#7E57C2" stroke-width="0.4" textLength="59.63" lengthAdjust="spacingAndGlyphs">48.78</text>
<text x="276.98" y="618.2" font-size="24" fill="#FDD835" stroke="#FDD835" stroke-width="0.4" textLength="59.13" lengthAdjust="spacingAndGlyphs">47.16</text>
<text x="36.23" y="881.6" font-size="24" fill="#131722" stroke="#131722" stroke-width="0.4" textLength="123.42" lengthAdjust="spacingAndGlyphs">Accum/Dist</text>
<text x="175.1" y="881.6" font-size="24" fill="#999915" stroke="#999915" stroke-width="0.4" textLength="84.5" lengthAdjust="spacingAndGlyphs">−108.67</text>
<text x="261.43" y="881.6" font-size="24" fill="#999915" stroke="#999915" stroke-width="0.4" textLength="20.51" lengthAdjust="spacingAndGlyphs">M</text>
<text x="2401.4" y="113" font-size="24" fill="#131722" stroke="#131722" stroke-width="0.4" textLength="59.91" lengthAdjust="spacingAndGlyphs">2.500</text>
<text x="2401.4" y="245" font-size="24" fill="#131722" stroke="#131722" stroke-width="0.4" textLength="59.91" lengthAdjust="spacingAndGlyphs">2.000</text>
<text x="2402.45" y="377" font-size="24" fill="#131722" stroke="#131722" stroke-width="0.4" textLength="58.83" lengthAdjust="spacingAndGlyphs">1.500</text>
<text x="2402.45" y="510" font-size="24" fill="#131722" stroke="#131722" stroke-width="0.4" textLength="58.83" lengthAdjust="spacingAndGlyphs">1.000</text>
<text x="2401.82" y="613" font-size="24" fill="#131722" stroke="#131722" stroke-width="0.4" textLength="59.59" lengthAdjust="spacingAndGlyphs">80.00</text>
<text x="2401.6" y="689" font-size="24" fill="#131722" stroke="#131722" stroke-width="0.4" textLength="59.79" lengthAdjust="spacingAndGlyphs">60.00</text>
<text x="2401.7" y="840" font-size="24" fill="#131722" stroke="#131722" stroke-width="0.4" textLength="59.53" lengthAdjust="spacingAndGlyphs">20.00</text>
<text x="2402.4" y="1007" font-size="24" fill="#131722" stroke="#131722" stroke-width="0.4" textLength="50.59" lengthAdjust="spacingAndGlyphs">−200</text>
<text x="2454.83" y="1007" font-size="24" fill="#131722" stroke="#131722" stroke-width="0.4" textLength="19.94" lengthAdjust="spacingAndGlyphs">M</text>
<text x="2402.4" y="1094.7" font-size="24" fill="#131722" stroke="#131722" stroke-width="0.4" textLength="50.59" lengthAdjust="spacingAndGlyphs">−300</text>
<text x="2454.83" y="1094.7" font-size="24" fill="#131722" stroke="#131722" stroke-width="0.4" textLength="19.94" lengthAdjust="spacingAndGlyphs">M</text>
<text x="2402.23" y="304" font-size="24" fill="#ffffff" stroke="#ffffff" stroke-width="0.4" textLength="59.24" lengthAdjust="spacingAndGlyphs">1.777</text>
<text x="2401.5" y="567" font-size="24" fill="#ffffff" stroke="#ffffff" stroke-width="0.4" textLength="46.88" lengthAdjust="spacingAndGlyphs">9.17</text>
<text x="2450.53" y="567" font-size="24" fill="#ffffff" stroke="#ffffff" stroke-width="0.4" textLength="19.9" lengthAdjust="spacingAndGlyphs">M</text>
<text x="2401.98" y="729.5" font-size="24" fill="#ffffff" stroke="#ffffff" stroke-width="0.4" textLength="59.57" lengthAdjust="spacingAndGlyphs">48.78</text>
<text x="2401.98" y="763.5" font-size="24" fill="#000000" stroke="#000000" stroke-width="0.4" textLength="59.57" lengthAdjust="spacingAndGlyphs">47.16</text>
<text x="2402.4" y="925.4" font-size="24" fill="#ffffff" stroke="#ffffff" stroke-width="0.4" textLength="83.62" lengthAdjust="spacingAndGlyphs">−108.67</text>
<text x="2487.9" y="925.4" font-size="24" fill="#ffffff" stroke="#ffffff" stroke-width="0.4" textLength="21.15" lengthAdjust="spacingAndGlyphs">M</text>
<text x="165.28" y="1141.3" font-size="24" fill="#131722" stroke="#131722" stroke-width="0.4" textLength="38.8" lengthAdjust="spacingAndGlyphs">Aug</text>
<text x="338.8" y="1141.3" font-size="24" fill="#131722" stroke="#131722" stroke-width="0.4" textLength="25.72" lengthAdjust="spacingAndGlyphs">15</text>
<text x="536.43" y="1141.3" font-size="24" fill="#131722" stroke="#131722" stroke-width="0.4" textLength="39.15" lengthAdjust="spacingAndGlyphs">Sep</text>
<text x="722.55" y="1141.3" font-size="24" fill="#131722" stroke="#131722" stroke-width="0.4" textLength="26.22" lengthAdjust="spacingAndGlyphs">16</text>
<text x="896.8" y="1141.3" font-size="24" fill="#131722" stroke="#131722" stroke-width="0.4" textLength="37.42" lengthAdjust="spacingAndGlyphs">Oct</text>
<text x="1070.8" y="1141.3" font-size="24" fill="#131722" stroke="#131722" stroke-width="0.4" textLength="25.72" lengthAdjust="spacingAndGlyphs">15</text>
<text x="1266.33" y="1141.3" font-size="24" fill="#131722" stroke="#131722" stroke-width="0.4" textLength="41.59" lengthAdjust="spacingAndGlyphs">Nov</text>
<text x="1442.8" y="1141.3" font-size="24" fill="#131722" stroke="#131722" stroke-width="0.4" textLength="25.72" lengthAdjust="spacingAndGlyphs">15</text>
<text x="1627.23" y="1141.3" font-size="24" fill="#131722" stroke="#131722" stroke-width="0.4" textLength="40.33" lengthAdjust="spacingAndGlyphs">Dec</text>
<text x="1814.55" y="1141.3" font-size="24" fill="#131722" stroke="#131722" stroke-width="0.4" textLength="26.22" lengthAdjust="spacingAndGlyphs">16</text>
<text x="2234.6" y="1141.3" font-size="24" fill="#131722" stroke="#131722" stroke-width="0.4" textLength="26.46" lengthAdjust="spacingAndGlyphs">20</text>
<text x="1992.45" y="1141.3" font-size="24" fill="#131722" stroke="#131722" stroke-width="0.4" textLength="55.1" lengthAdjust="spacingAndGlyphs" font-weight="bold">2025</text>
<g fill="none" stroke="#131722"><ellipse cx="358.15" cy="610.3" rx="5.4" ry="6.8" stroke-width="1.8"/><path d="M353.15 619.8L362.55 601" stroke-width="1.4"/></g>
<g fill="none" stroke="#131722"><ellipse cx="388.45" cy="610.3" rx="5.4" ry="6.8" stroke-width="1.8"/><path d="M383.45 619.8L392.85 601" stroke-width="1.4"/></g>
<g fill="#131722"><path d="M19.9 1184.3H35.5V1203.5H27.7V1191.6H19.9Z"/><circle cx="42.2" cy="1188.7" r="4.5"/><path d="M49.9 1184.3H59.1L51 1203.5H42.4Z"/></g>
<text x="65.88" y="1203.5" font-size="25.5" fill="#131722" stroke="#131722" stroke-width="0.4" textLength="139.94" lengthAdjust="spacingAndGlyphs">TradingView</text>
</svg>
</body></html>
